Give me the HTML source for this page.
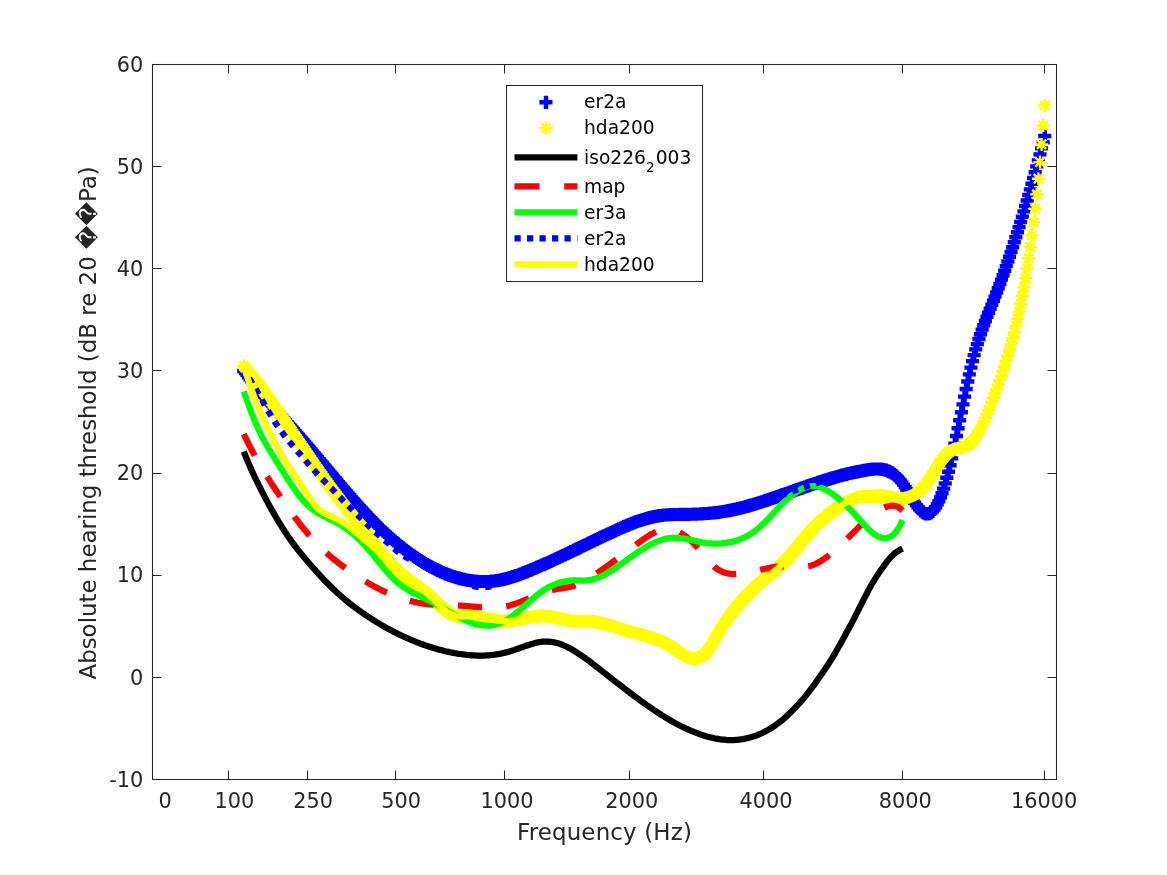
<!DOCTYPE html>
<html><head><meta charset="utf-8"><title>Absolute hearing threshold</title>
<style>html,body{margin:0;padding:0;background:#fff}body{width:1167px;height:875px;overflow:hidden}svg{display:block;will-change:transform}text{font-family:"DejaVu Sans","Liberation Sans",sans-serif}</style></head><body>
<svg width="1167" height="875" viewBox="0 0 1167 875">
<rect x="0" y="0" width="1167" height="875" fill="#fff"/>
<clipPath id="c"><rect x="152.5" y="64.5" width="904.0" height="715.0"/></clipPath>
<g clip-path="url(#c)" fill="none">
<path d="M237.2 371.0h13.1M243.8 364.5v13.1M238.8 373.1h13.1M245.4 366.5v13.1M240.4 375.1h13.1M247.0 368.6v13.1M242.0 377.2h13.1M248.6 370.6v13.1M243.6 379.2h13.1M250.2 372.7v13.1M245.2 381.2h13.1M251.8 374.7v13.1M246.8 383.2h13.1M253.4 376.6v13.1M248.4 385.2h13.1M255.0 378.6v13.1M250.0 387.1h13.1M256.6 380.6v13.1M251.7 389.1h13.1M258.2 382.5v13.1M253.3 391.0h13.1M259.8 384.4v13.1M254.9 392.9h13.1M261.4 386.3v13.1M256.5 394.8h13.1M263.0 388.2v13.1M258.1 396.7h13.1M264.6 390.1v13.1M259.7 398.5h13.1M266.2 392.0v13.1M261.3 400.4h13.1M267.8 393.8v13.1M262.9 402.2h13.1M269.4 395.7v13.1M264.5 404.1h13.1M271.0 397.5v13.1M266.1 405.9h13.1M272.6 399.3v13.1M267.7 407.7h13.1M274.3 401.2v13.1M269.3 409.5h13.1M275.9 403.0v13.1M270.9 411.3h13.1M277.5 404.8v13.1M272.5 413.1h13.1M279.1 406.6v13.1M274.1 414.9h13.1M280.7 408.4v13.1M275.7 416.7h13.1M282.3 410.2v13.1M277.3 418.5h13.1M283.9 412.0v13.1M278.9 420.3h13.1M285.5 413.8v13.1M280.5 422.1h13.1M287.1 415.6v13.1M282.2 423.9h13.1M288.7 417.4v13.1M283.8 425.7h13.1M290.3 419.2v13.1M285.4 427.5h13.1M291.9 421.0v13.1M287.0 429.3h13.1M293.5 422.8v13.1M288.6 431.1h13.1M295.1 424.6v13.1M290.2 432.9h13.1M296.7 426.4v13.1M291.8 434.8h13.1M298.3 428.2v13.1M293.4 436.6h13.1M299.9 430.1v13.1M295.0 438.4h13.1M301.5 431.9v13.1M296.6 440.3h13.1M303.1 433.7v13.1M298.2 442.2h13.1M304.8 435.6v13.1M299.8 444.0h13.1M306.4 437.5v13.1M301.4 445.9h13.1M308.0 439.3v13.1M303.0 447.8h13.1M309.6 441.2v13.1M304.6 449.7h13.1M311.2 443.1v13.1M306.2 451.6h13.1M312.8 445.0v13.1M307.8 453.5h13.1M314.4 446.9v13.1M309.4 455.4h13.1M316.0 448.8v13.1M311.0 457.3h13.1M317.6 450.7v13.1M312.7 459.2h13.1M319.2 452.6v13.1M314.3 461.1h13.1M320.8 454.5v13.1M315.9 463.0h13.1M322.4 456.5v13.1M317.5 464.9h13.1M324.0 458.4v13.1M319.1 466.8h13.1M325.6 460.3v13.1M320.7 468.8h13.1M327.2 462.2v13.1M322.3 470.7h13.1M328.8 464.1v13.1M323.9 472.6h13.1M330.4 466.1v13.1M325.5 474.5h13.1M332.0 468.0v13.1M327.1 476.4h13.1M333.6 469.9v13.1M328.7 478.3h13.1M335.3 471.8v13.1M330.3 480.2h13.1M336.9 473.7v13.1M331.9 482.1h13.1M338.5 475.6v13.1M333.5 484.0h13.1M340.1 477.5v13.1M335.1 485.9h13.1M341.7 479.4v13.1M336.7 487.8h13.1M343.3 481.3v13.1M338.3 489.7h13.1M344.9 483.1v13.1M339.9 491.6h13.1M346.5 485.0v13.1M341.5 493.4h13.1M348.1 486.9v13.1M343.2 495.3h13.1M349.7 488.7v13.1M344.8 497.1h13.1M351.3 490.6v13.1M346.4 498.9h13.1M352.9 492.4v13.1M348.0 500.8h13.1M354.5 494.2v13.1M349.6 502.6h13.1M356.1 496.0v13.1M351.2 504.4h13.1M357.7 497.8v13.1M352.8 506.2h13.1M359.3 499.6v13.1M354.4 507.9h13.1M360.9 501.4v13.1M356.0 509.7h13.1M362.5 503.1v13.1M357.6 511.4h13.1M364.1 504.9v13.1M359.2 513.2h13.1M365.8 506.6v13.1M360.8 514.9h13.1M367.4 508.3v13.1M362.4 516.6h13.1M369.0 510.0v13.1M364.0 518.2h13.1M370.6 511.7v13.1M365.6 519.9h13.1M372.2 513.4v13.1M367.2 521.6h13.1M373.8 515.0v13.1M368.8 523.2h13.1M375.4 516.6v13.1M370.4 524.8h13.1M377.0 518.2v13.1M372.0 526.4h13.1M378.6 519.8v13.1M373.7 527.9h13.1M380.2 521.4v13.1M375.3 529.5h13.1M381.8 522.9v13.1M376.9 531.0h13.1M383.4 524.5v13.1M378.5 532.5h13.1M385.0 526.0v13.1M380.1 534.0h13.1M386.6 527.5v13.1M381.7 535.5h13.1M388.2 528.9v13.1M383.3 536.9h13.1M389.8 530.4v13.1M384.9 538.4h13.1M391.4 531.8v13.1M386.5 539.8h13.1M393.0 533.2v13.1M388.1 541.2h13.1M394.6 534.6v13.1M389.7 542.5h13.1M396.3 536.0v13.1M391.3 543.9h13.1M397.9 537.3v13.1M392.9 545.2h13.1M399.5 538.7v13.1M394.5 546.5h13.1M401.1 540.0v13.1M396.1 547.8h13.1M402.7 541.3v13.1M397.7 549.1h13.1M404.3 542.5v13.1M399.3 550.3h13.1M405.9 543.8v13.1M400.9 551.5h13.1M407.5 545.0v13.1M402.5 552.7h13.1M409.1 546.2v13.1M404.1 553.9h13.1M410.7 547.4v13.1M405.8 555.1h13.1M412.3 548.5v13.1M407.4 556.2h13.1M413.9 549.6v13.1M409.0 557.3h13.1M415.5 550.7v13.1M410.6 558.4h13.1M417.1 551.8v13.1M412.2 559.4h13.1M418.7 552.9v13.1M413.8 560.5h13.1M420.3 553.9v13.1M415.4 561.5h13.1M421.9 555.0v13.1M417.0 562.5h13.1M423.5 555.9v13.1M418.6 563.5h13.1M425.1 556.9v13.1M420.2 564.4h13.1M426.8 557.9v13.1M421.8 565.3h13.1M428.4 558.8v13.1M423.4 566.2h13.1M430.0 559.7v13.1M425.0 567.1h13.1M431.6 560.6v13.1M426.6 568.0h13.1M433.2 561.4v13.1M428.2 568.8h13.1M434.8 562.2v13.1M429.8 569.6h13.1M436.4 563.1v13.1M431.4 570.4h13.1M438.0 563.8v13.1M433.0 571.1h13.1M439.6 564.6v13.1M434.6 571.9h13.1M441.2 565.3v13.1M436.3 572.6h13.1M442.8 566.0v13.1M437.9 573.2h13.1M444.4 566.7v13.1M439.5 573.9h13.1M446.0 567.3v13.1M441.1 574.5h13.1M447.6 568.0v13.1M442.7 575.1h13.1M449.2 568.6v13.1M444.3 575.7h13.1M450.8 569.2v13.1M445.9 576.3h13.1M452.4 569.7v13.1M447.5 576.8h13.1M454.0 570.2v13.1M449.1 577.3h13.1M455.6 570.7v13.1M450.7 577.8h13.1M457.3 571.2v13.1M452.3 578.2h13.1M458.9 571.6v13.1M453.9 578.6h13.1M460.5 572.1v13.1M455.5 579.0h13.1M462.1 572.5v13.1M457.1 579.4h13.1M463.7 572.8v13.1M458.7 579.7h13.1M465.3 573.2v13.1M460.3 580.0h13.1M466.9 573.5v13.1M461.9 580.3h13.1M468.5 573.8v13.1M463.5 580.6h13.1M470.1 574.0v13.1M465.1 580.8h13.1M471.7 574.2v13.1M466.8 581.0h13.1M473.3 574.4v13.1M468.4 581.2h13.1M474.9 574.6v13.1M470.0 581.3h13.1M476.5 574.8v13.1M471.6 581.4h13.1M478.1 574.9v13.1M473.2 581.5h13.1M479.7 575.0v13.1M474.8 581.6h13.1M481.3 575.0v13.1M476.4 581.6h13.1M482.9 575.0v13.1M478.0 581.6h13.1M484.5 575.0v13.1M479.6 581.6h13.1M486.1 575.0v13.1M481.2 581.5h13.1M487.8 575.0v13.1M482.8 581.4h13.1M489.4 574.9v13.1M484.4 581.3h13.1M491.0 574.7v13.1M486.0 581.2h13.1M492.6 574.6v13.1M487.6 581.0h13.1M494.2 574.4v13.1M489.2 580.8h13.1M495.8 574.2v13.1M490.8 580.5h13.1M497.4 574.0v13.1M492.4 580.3h13.1M499.0 573.7v13.1M494.0 580.0h13.1M500.6 573.4v13.1M495.6 579.6h13.1M502.2 573.1v13.1M497.3 579.3h13.1M503.8 572.7v13.1M498.9 578.9h13.1M505.4 572.3v13.1M500.5 578.5h13.1M507.0 571.9v13.1M502.1 578.0h13.1M508.6 571.5v13.1M503.7 577.6h13.1M510.2 571.0v13.1M505.3 577.1h13.1M511.8 570.5v13.1M506.9 576.6h13.1M513.4 570.0v13.1M508.5 576.0h13.1M515.0 569.5v13.1M510.1 575.5h13.1M516.6 568.9v13.1M511.7 574.9h13.1M518.3 568.4v13.1M513.3 574.3h13.1M519.9 567.8v13.1M514.9 573.7h13.1M521.5 567.2v13.1M516.5 573.1h13.1M523.1 566.6v13.1M518.1 572.5h13.1M524.7 565.9v13.1M519.7 571.9h13.1M526.3 565.3v13.1M521.3 571.2h13.1M527.9 564.7v13.1M522.9 570.6h13.1M529.5 564.0v13.1M524.5 569.9h13.1M531.1 563.3v13.1M526.1 569.2h13.1M532.7 562.7v13.1M527.8 568.6h13.1M534.3 562.0v13.1M529.4 567.9h13.1M535.9 561.3v13.1M531.0 567.2h13.1M537.5 560.6v13.1M532.6 566.5h13.1M539.1 559.9v13.1M534.2 565.8h13.1M540.7 559.2v13.1M535.8 565.1h13.1M542.3 558.5v13.1M537.4 564.4h13.1M543.9 557.8v13.1M539.0 563.7h13.1M545.5 557.1v13.1M540.6 562.9h13.1M547.1 556.4v13.1M542.2 562.2h13.1M548.8 555.7v13.1M543.8 561.5h13.1M550.4 554.9v13.1M545.4 560.7h13.1M552.0 554.2v13.1M547.0 560.0h13.1M553.6 553.5v13.1M548.6 559.3h13.1M555.2 552.7v13.1M550.2 558.5h13.1M556.8 552.0v13.1M551.8 557.8h13.1M558.4 551.2v13.1M553.4 557.0h13.1M560.0 550.5v13.1M555.0 556.3h13.1M561.6 549.7v13.1M556.6 555.5h13.1M563.2 549.0v13.1M558.3 554.8h13.1M564.8 548.2v13.1M559.9 554.0h13.1M566.4 547.4v13.1M561.5 553.2h13.1M568.0 546.7v13.1M563.1 552.5h13.1M569.6 545.9v13.1M564.7 551.7h13.1M571.2 545.1v13.1M566.3 550.9h13.1M572.8 544.4v13.1M567.9 550.2h13.1M574.4 543.6v13.1M569.5 549.4h13.1M576.0 542.8v13.1M571.1 548.6h13.1M577.6 542.1v13.1M572.7 547.8h13.1M579.3 541.3v13.1M574.3 547.1h13.1M580.9 540.5v13.1M575.9 546.3h13.1M582.5 539.7v13.1M577.5 545.5h13.1M584.1 539.0v13.1M579.1 544.7h13.1M585.7 538.2v13.1M580.7 544.0h13.1M587.3 537.4v13.1M582.3 543.2h13.1M588.9 536.6v13.1M583.9 542.4h13.1M590.5 535.9v13.1M585.5 541.6h13.1M592.1 535.1v13.1M587.1 540.9h13.1M593.7 534.3v13.1M588.8 540.1h13.1M595.3 533.5v13.1M590.4 539.3h13.1M596.9 532.8v13.1M592.0 538.5h13.1M598.5 532.0v13.1M593.6 537.8h13.1M600.1 531.2v13.1M595.2 537.0h13.1M601.7 530.5v13.1M596.8 536.3h13.1M603.3 529.7v13.1M598.4 535.5h13.1M604.9 528.9v13.1M600.0 534.7h13.1M606.5 528.2v13.1M601.6 534.0h13.1M608.1 527.4v13.1M603.2 533.2h13.1M609.8 526.7v13.1M604.8 532.5h13.1M611.4 525.9v13.1M606.4 531.7h13.1M613.0 525.2v13.1M608.0 531.0h13.1M614.6 524.4v13.1M609.6 530.2h13.1M616.2 523.7v13.1M611.2 529.5h13.1M617.8 523.0v13.1M612.8 528.8h13.1M619.4 522.2v13.1M614.4 528.1h13.1M621.0 521.5v13.1M616.0 527.4h13.1M622.6 520.8v13.1M617.6 526.7h13.1M624.2 520.1v13.1M619.3 526.0h13.1M625.8 519.4v13.1M620.9 525.3h13.1M627.4 518.8v13.1M622.5 524.7h13.1M629.0 518.1v13.1M624.1 524.0h13.1M630.6 517.5v13.1M625.7 523.4h13.1M632.2 516.8v13.1M627.3 522.8h13.1M633.8 516.2v13.1M628.9 522.2h13.1M635.4 515.6v13.1M630.5 521.6h13.1M637.0 515.0v13.1M632.1 521.0h13.1M638.6 514.5v13.1M633.7 520.5h13.1M640.3 513.9v13.1M635.3 519.9h13.1M641.9 513.4v13.1M636.9 519.4h13.1M643.5 512.9v13.1M638.5 518.9h13.1M645.1 512.4v13.1M640.1 518.5h13.1M646.7 511.9v13.1M641.7 518.0h13.1M648.3 511.5v13.1M643.3 517.6h13.1M649.9 511.1v13.1M644.9 517.2h13.1M651.5 510.7v13.1M646.5 516.8h13.1M653.1 510.3v13.1M648.1 516.5h13.1M654.7 510.0v13.1M649.8 516.2h13.1M656.3 509.7v13.1M651.4 515.9h13.1M657.9 509.4v13.1M653.0 515.7h13.1M659.5 509.1v13.1M654.6 515.4h13.1M661.1 508.9v13.1M656.2 515.3h13.1M662.7 508.7v13.1M657.8 515.1h13.1M664.3 508.5v13.1M659.4 514.9h13.1M665.9 508.4v13.1M661.0 514.8h13.1M667.5 508.3v13.1M662.6 514.7h13.1M669.1 508.2v13.1M664.2 514.6h13.1M670.8 508.1v13.1M665.8 514.6h13.1M672.4 508.0v13.1M667.4 514.5h13.1M674.0 508.0v13.1M669.0 514.5h13.1M675.6 507.9v13.1M670.6 514.4h13.1M677.2 507.9v13.1M672.2 514.4h13.1M678.8 507.9v13.1M673.8 514.4h13.1M680.4 507.8v13.1M675.4 514.4h13.1M682.0 507.8v13.1M677.0 514.4h13.1M683.6 507.8v13.1M678.6 514.4h13.1M685.2 507.8v13.1M680.3 514.3h13.1M686.8 507.8v13.1M681.9 514.3h13.1M688.4 507.8v13.1M683.5 514.3h13.1M690.0 507.7v13.1M685.1 514.3h13.1M691.6 507.7v13.1M686.7 514.2h13.1M693.2 507.7v13.1M688.3 514.2h13.1M694.8 507.6v13.1M689.9 514.1h13.1M696.4 507.6v13.1M691.5 514.0h13.1M698.0 507.5v13.1M693.1 514.0h13.1M699.6 507.4v13.1M694.7 513.9h13.1M701.3 507.3v13.1M696.3 513.8h13.1M702.9 507.2v13.1M697.9 513.7h13.1M704.5 507.1v13.1M699.5 513.6h13.1M706.1 507.0v13.1M701.1 513.4h13.1M707.7 506.9v13.1M702.7 513.3h13.1M709.3 506.7v13.1M704.3 513.1h13.1M710.9 506.6v13.1M705.9 513.0h13.1M712.5 506.4v13.1M707.5 512.8h13.1M714.1 506.3v13.1M709.1 512.6h13.1M715.7 506.1v13.1M710.8 512.4h13.1M717.3 505.9v13.1M712.4 512.2h13.1M718.9 505.7v13.1M714.0 512.0h13.1M720.5 505.4v13.1M715.6 511.8h13.1M722.1 505.2v13.1M717.2 511.5h13.1M723.7 504.9v13.1M718.8 511.2h13.1M725.3 504.7v13.1M720.4 510.9h13.1M726.9 504.4v13.1M722.0 510.7h13.1M728.5 504.1v13.1M723.6 510.3h13.1M730.1 503.8v13.1M725.2 510.0h13.1M731.8 503.5v13.1M726.8 509.7h13.1M733.4 503.1v13.1M728.4 509.3h13.1M735.0 502.8v13.1M730.0 509.0h13.1M736.6 502.4v13.1M731.6 508.6h13.1M738.2 502.1v13.1M733.2 508.2h13.1M739.8 501.7v13.1M734.8 507.8h13.1M741.4 501.3v13.1M736.4 507.4h13.1M743.0 500.9v13.1M738.0 507.0h13.1M744.6 500.4v13.1M739.6 506.6h13.1M746.2 500.0v13.1M741.3 506.1h13.1M747.8 499.6v13.1M742.9 505.7h13.1M749.4 499.1v13.1M744.5 505.2h13.1M751.0 498.6v13.1M746.1 504.7h13.1M752.6 498.2v13.1M747.7 504.2h13.1M754.2 497.7v13.1M749.3 503.8h13.1M755.8 497.2v13.1M750.9 503.3h13.1M757.4 496.7v13.1M752.5 502.8h13.1M759.0 496.2v13.1M754.1 502.3h13.1M760.6 495.7v13.1M755.7 501.7h13.1M762.2 495.2v13.1M757.3 501.2h13.1M763.9 494.7v13.1M758.9 500.7h13.1M765.5 494.1v13.1M760.5 500.2h13.1M767.1 493.6v13.1M762.1 499.6h13.1M768.7 493.1v13.1M763.7 499.1h13.1M770.3 492.5v13.1M765.3 498.5h13.1M771.9 492.0v13.1M766.9 498.0h13.1M773.5 491.4v13.1M768.5 497.4h13.1M775.1 490.9v13.1M770.1 496.9h13.1M776.7 490.3v13.1M771.8 496.3h13.1M778.3 489.8v13.1M773.4 495.8h13.1M779.9 489.2v13.1M775.0 495.2h13.1M781.5 488.6v13.1M776.6 494.6h13.1M783.1 488.1v13.1M778.2 494.1h13.1M784.7 487.5v13.1M779.8 493.5h13.1M786.3 486.9v13.1M781.4 492.9h13.1M787.9 486.4v13.1M783.0 492.4h13.1M789.5 485.8v13.1M784.6 491.8h13.1M791.1 485.2v13.1M786.2 491.2h13.1M792.7 484.7v13.1M787.8 490.7h13.1M794.4 484.1v13.1M789.4 490.1h13.1M796.0 483.5v13.1M791.0 489.5h13.1M797.6 483.0v13.1M792.6 489.0h13.1M799.2 482.4v13.1M794.2 488.4h13.1M800.8 481.8v13.1M795.8 487.8h13.1M802.4 481.3v13.1M797.4 487.3h13.1M804.0 480.7v13.1M799.0 486.7h13.1M805.6 480.2v13.1M800.6 486.2h13.1M807.2 479.6v13.1M802.3 485.6h13.1M808.8 479.1v13.1M803.9 485.1h13.1M810.4 478.5v13.1M805.5 484.5h13.1M812.0 478.0v13.1M807.1 484.0h13.1M813.6 477.4v13.1M808.7 483.4h13.1M815.2 476.9v13.1M810.3 482.9h13.1M816.8 476.4v13.1M811.9 482.4h13.1M818.4 475.8v13.1M813.5 481.9h13.1M820.0 475.3v13.1M815.1 481.3h13.1M821.6 474.8v13.1M816.7 480.8h13.1M823.2 474.3v13.1M818.3 480.3h13.1M824.9 473.8v13.1M819.9 479.8h13.1M826.5 473.3v13.1M821.5 479.3h13.1M828.1 472.8v13.1M823.1 478.8h13.1M829.7 472.3v13.1M824.7 478.4h13.1M831.3 471.8v13.1M826.3 477.9h13.1M832.9 471.3v13.1M827.9 477.4h13.1M834.5 470.9v13.1M829.5 477.0h13.1M836.1 470.4v13.1M831.1 476.5h13.1M837.7 470.0v13.1M832.8 476.1h13.1M839.3 469.5v13.1M834.4 475.6h13.1M840.9 469.1v13.1M836.0 475.2h13.1M842.5 468.6v13.1M837.6 474.8h13.1M844.1 468.2v13.1M839.2 474.4h13.1M845.7 467.8v13.1M840.8 474.0h13.1M847.3 467.4v13.1M842.4 473.6h13.1M848.9 467.0v13.1M844.0 473.2h13.1M850.5 466.7v13.1M845.6 472.9h13.1M852.1 466.3v13.1M847.2 472.5h13.1M853.7 466.0v13.1M848.8 472.2h13.1M855.4 465.6v13.1M850.4 471.9h13.1M857.0 465.3v13.1M852.0 471.5h13.1M858.6 465.0v13.1M853.6 471.2h13.1M860.2 464.7v13.1M855.2 470.9h13.1M861.8 464.4v13.1M856.8 470.6h13.1M863.4 464.1v13.1M858.4 470.3h13.1M865.0 463.8v13.1M860.0 470.0h13.1M866.6 463.5v13.1M861.6 469.8h13.1M868.2 463.2v13.1M863.3 469.5h13.1M869.8 463.0v13.1M864.9 469.3h13.1M871.4 462.8v13.1M866.5 469.2h13.1M873.0 462.6v13.1M868.1 469.1h13.1M874.6 462.5v13.1M869.7 469.0h13.1M876.2 462.4v13.1M871.3 469.0h13.1M877.8 462.4v13.1M872.9 469.0h13.1M879.4 462.5v13.1M874.5 469.2h13.1M881.0 462.6v13.1M876.1 469.4h13.1M882.6 462.9v13.1M877.7 469.7h13.1M884.2 463.2v13.1M879.3 470.2h13.1M885.9 463.6v13.1M880.9 470.7h13.1M887.5 464.2v13.1M882.5 471.4h13.1M889.1 464.8v13.1M884.1 472.2h13.1M890.7 465.7v13.1M885.7 473.2h13.1M892.3 466.6v13.1M887.3 474.3h13.1M893.9 467.7v13.1M888.9 475.5h13.1M895.5 469.0v13.1M890.5 477.0h13.1M897.1 470.4v13.1M892.1 478.6h13.1M898.7 472.0v13.1M893.8 480.4h13.1M900.3 473.8v13.1M895.4 482.4h13.1M901.9 475.8v13.1M897.0 484.6h13.1M903.5 478.1v13.1M898.6 487.0h13.1M905.1 480.5v13.1M900.2 489.5h13.1M906.7 483.0v13.1M901.8 492.2h13.1M908.3 485.6v13.1M903.4 494.8h13.1M909.9 488.3v13.1M905.0 497.5h13.1M911.5 491.0v13.1M906.6 500.1h13.1M913.1 493.6v13.1M908.2 502.7h13.1M914.7 496.1v13.1M909.8 505.1h13.1M916.4 498.5v13.1M911.4 507.3h13.1M918.0 500.7v13.1M913.0 509.2h13.1M919.6 502.7v13.1M914.6 510.9h13.1M921.2 504.4v13.1M916.2 512.3h13.1M922.8 505.7v13.1M917.8 513.3h13.1M924.4 506.7v13.1M919.4 513.8h13.1M926.0 507.3v13.1M921.0 513.9h13.1M927.6 507.4v13.1M922.6 513.5h13.1M929.2 507.0v13.1M924.3 512.7h13.1M930.8 506.1v13.1M925.9 511.3h13.1M932.4 504.8v13.1M927.5 509.5h13.1M934.0 502.9v13.1M929.1 507.2h13.1M935.6 500.6v13.1M930.7 504.4h13.1M937.2 497.9v13.1M932.3 501.2h13.1M938.8 494.6v13.1M933.9 497.4h13.1M940.4 490.9v13.1M935.5 493.2h13.1M942.0 486.7v13.1M937.1 488.6h13.1M943.6 482.0v13.1M938.7 483.4h13.1M945.2 476.9v13.1M940.3 477.8h13.1M946.9 471.3v13.1M941.9 471.8h13.1M948.5 465.2v13.1M943.5 465.3h13.1M950.1 458.7v13.1M945.1 458.4h13.1M951.7 451.9v13.1M946.7 451.2h13.1M953.3 444.6v13.1M948.3 443.7h13.1M954.9 437.2v13.1M949.9 436.0h13.1M956.5 429.5v13.1M951.5 428.2h13.1M958.1 421.6v13.1M953.1 420.3h13.1M959.7 413.7v13.1M954.8 412.3h13.1M961.3 405.8v13.1M956.4 404.4h13.1M962.9 397.9v13.1M958.0 396.6h13.1M964.5 390.1v13.1M959.6 389.0h13.1M966.1 382.4v13.1M961.2 381.5h13.1M967.7 375.0v13.1M962.8 374.4h13.1M969.3 367.8v13.1M964.4 367.6h13.1M970.9 361.0v13.1M966.0 361.1h13.1M972.5 354.6v13.1M967.6 355.1h13.1M974.1 348.6v13.1M969.2 349.4h13.1M975.7 342.9v13.1M970.8 344.1h13.1M977.4 337.5v13.1M972.4 339.0h13.1M979.0 332.5v13.1M974.0 334.2h13.1M980.6 327.7v13.1M975.6 329.6h13.1M982.2 323.1v13.1M977.2 325.2h13.1M983.8 318.7v13.1M978.8 321.0h13.1M985.4 314.4v13.1M980.4 316.8h13.1M987.0 310.3v13.1M982.0 312.8h13.1M988.6 306.2v13.1M983.6 308.7h13.1M990.2 302.2v13.1M985.3 304.7h13.1M991.8 298.2v13.1M986.9 300.7h13.1M993.4 294.2v13.1M988.5 296.6h13.1M995.0 290.1v13.1M990.1 292.5h13.1M996.6 285.9v13.1M991.7 288.3h13.1M998.2 281.7v13.1M993.3 284.0h13.1M999.8 277.4v13.1M994.9 279.6h13.1M1001.4 273.1v13.1M996.5 275.2h13.1M1003.0 268.6v13.1M998.1 270.7h13.1M1004.6 264.1v13.1M999.7 266.1h13.1M1006.2 259.6v13.1M1001.3 261.5h13.1M1007.9 254.9v13.1M1002.9 256.8h13.1M1009.5 250.2v13.1M1004.5 252.0h13.1M1011.1 245.5v13.1M1006.1 247.2h13.1M1012.7 240.6v13.1M1007.7 242.3h13.1M1014.3 235.7v13.1M1009.3 237.3h13.1M1015.9 230.7v13.1M1010.9 232.3h13.1M1017.5 225.7v13.1M1012.5 227.1h13.1M1019.1 220.6v13.1M1014.1 222.0h13.1M1020.7 215.4v13.1M1015.8 216.7h13.1M1022.3 210.2v13.1M1017.4 211.4h13.1M1023.9 204.8v13.1M1019.0 206.0h13.1M1025.5 199.5v13.1M1020.6 200.5h13.1M1027.1 194.0v13.1M1022.2 195.0h13.1M1028.7 188.5v13.1M1023.8 189.4h13.1M1030.3 182.9v13.1M1025.4 183.8h13.1M1031.9 177.2v13.1M1027.0 178.0h13.1M1033.5 171.5v13.1M1028.6 172.2h13.1M1035.1 165.7v13.1M1030.2 166.4h13.1M1036.7 159.8v13.1M1031.8 160.4h13.1M1038.4 153.9v13.1M1033.4 154.4h13.1M1040.0 147.9v13.1M1035.0 148.4h13.1M1041.6 141.8v13.1M1036.6 142.2h13.1M1043.2 135.7v13.1M1038.2 136.0h13.1M1044.8 129.4v13.1" stroke="#0000ff" stroke-width="4.40"/>
<path d="M237.3 366.0h13.0M243.8 359.5v13.0M239.2 361.4l9.2 9.2M239.2 370.6l9.2 -9.2M238.9 367.9h13.0M245.4 361.4v13.0M240.8 363.3l9.2 9.2M240.8 372.5l9.2 -9.2M240.5 369.8h13.0M247.0 363.3v13.0M242.4 365.2l9.2 9.2M242.4 374.4l9.2 -9.2M242.1 371.8h13.0M248.6 365.3v13.0M244.0 367.2l9.2 9.2M244.0 376.4l9.2 -9.2M243.7 373.7h13.0M250.2 367.2v13.0M245.6 369.1l9.2 9.2M245.6 378.3l9.2 -9.2M245.3 375.7h13.0M251.8 369.2v13.0M247.2 371.1l9.2 9.2M247.2 380.3l9.2 -9.2M246.9 377.7h13.0M253.4 371.2v13.0M248.8 373.1l9.2 9.2M248.8 382.3l9.2 -9.2M248.5 379.8h13.0M255.0 373.3v13.0M250.4 375.2l9.2 9.2M250.4 384.4l9.2 -9.2M250.1 381.8h13.0M256.6 375.3v13.0M252.0 377.3l9.2 9.2M252.0 386.4l9.2 -9.2M251.7 383.9h13.0M258.2 377.4v13.0M253.6 379.3l9.2 9.2M253.6 388.5l9.2 -9.2M253.3 386.0h13.0M259.8 379.5v13.0M255.2 381.4l9.2 9.2M255.2 390.6l9.2 -9.2M254.9 388.2h13.0M261.4 381.7v13.0M256.8 383.6l9.2 9.2M256.8 392.8l9.2 -9.2M256.5 390.3h13.0M263.0 383.8v13.0M258.4 385.7l9.2 9.2M258.4 394.9l9.2 -9.2M258.1 392.5h13.0M264.6 386.0v13.0M260.0 387.9l9.2 9.2M260.0 397.1l9.2 -9.2M259.7 394.7h13.0M266.2 388.2v13.0M261.6 390.1l9.2 9.2M261.6 399.3l9.2 -9.2M261.3 396.9h13.0M267.8 390.4v13.0M263.2 392.3l9.2 9.2M263.2 401.5l9.2 -9.2M262.9 399.1h13.0M269.4 392.6v13.0M264.8 394.5l9.2 9.2M264.8 403.7l9.2 -9.2M264.5 401.3h13.0M271.0 394.8v13.0M266.4 396.7l9.2 9.2M266.4 405.9l9.2 -9.2M266.1 403.6h13.0M272.6 397.1v13.0M268.1 399.0l9.2 9.2M268.1 408.2l9.2 -9.2M267.8 405.8h13.0M274.3 399.3v13.0M269.7 401.2l9.2 9.2M269.7 410.4l9.2 -9.2M269.4 408.1h13.0M275.9 401.6v13.0M271.3 403.5l9.2 9.2M271.3 412.7l9.2 -9.2M271.0 410.4h13.0M277.5 403.9v13.0M272.9 405.8l9.2 9.2M272.9 415.0l9.2 -9.2M272.6 412.7h13.0M279.1 406.2v13.0M274.5 408.1l9.2 9.2M274.5 417.3l9.2 -9.2M274.2 415.0h13.0M280.7 408.5v13.0M276.1 410.4l9.2 9.2M276.1 419.6l9.2 -9.2M275.8 417.3h13.0M282.3 410.8v13.0M277.7 412.7l9.2 9.2M277.7 421.9l9.2 -9.2M277.4 419.6h13.0M283.9 413.1v13.0M279.3 415.0l9.2 9.2M279.3 424.2l9.2 -9.2M279.0 421.9h13.0M285.5 415.4v13.0M280.9 417.4l9.2 9.2M280.9 426.5l9.2 -9.2M280.6 424.3h13.0M287.1 417.8v13.0M282.5 419.7l9.2 9.2M282.5 428.9l9.2 -9.2M282.2 426.6h13.0M288.7 420.1v13.0M284.1 422.0l9.2 9.2M284.1 431.2l9.2 -9.2M283.8 429.0h13.0M290.3 422.5v13.0M285.7 424.4l9.2 9.2M285.7 433.6l9.2 -9.2M285.4 431.3h13.0M291.9 424.8v13.0M287.3 426.7l9.2 9.2M287.3 435.9l9.2 -9.2M287.0 433.7h13.0M293.5 427.2v13.0M288.9 429.1l9.2 9.2M288.9 438.3l9.2 -9.2M288.6 436.1h13.0M295.1 429.6v13.0M290.5 431.5l9.2 9.2M290.5 440.7l9.2 -9.2M290.2 438.4h13.0M296.7 431.9v13.0M292.1 433.8l9.2 9.2M292.1 443.0l9.2 -9.2M291.8 440.8h13.0M298.3 434.3v13.0M293.7 436.2l9.2 9.2M293.7 445.4l9.2 -9.2M293.4 443.1h13.0M299.9 436.6v13.0M295.3 438.6l9.2 9.2M295.3 447.7l9.2 -9.2M295.0 445.5h13.0M301.5 439.0v13.0M296.9 440.9l9.2 9.2M296.9 450.1l9.2 -9.2M296.6 447.9h13.0M303.1 441.4v13.0M298.6 443.3l9.2 9.2M298.6 452.5l9.2 -9.2M298.3 450.2h13.0M304.8 443.7v13.0M300.2 445.6l9.2 9.2M300.2 454.8l9.2 -9.2M299.9 452.6h13.0M306.4 446.1v13.0M301.8 448.0l9.2 9.2M301.8 457.2l9.2 -9.2M301.5 455.0h13.0M308.0 448.5v13.0M303.4 450.4l9.2 9.2M303.4 459.5l9.2 -9.2M303.1 457.3h13.0M309.6 450.8v13.0M305.0 452.7l9.2 9.2M305.0 461.9l9.2 -9.2M304.7 459.6h13.0M311.2 453.1v13.0M306.6 455.0l9.2 9.2M306.6 464.2l9.2 -9.2M306.3 462.0h13.0M312.8 455.5v13.0M308.2 457.4l9.2 9.2M308.2 466.6l9.2 -9.2M307.9 464.3h13.0M314.4 457.8v13.0M309.8 459.7l9.2 9.2M309.8 468.9l9.2 -9.2M309.5 466.6h13.0M316.0 460.1v13.0M311.4 462.0l9.2 9.2M311.4 471.2l9.2 -9.2M311.1 469.0h13.0M317.6 462.5v13.0M313.0 464.4l9.2 9.2M313.0 473.6l9.2 -9.2M312.7 471.3h13.0M319.2 464.8v13.0M314.6 466.7l9.2 9.2M314.6 475.9l9.2 -9.2M314.3 473.6h13.0M320.8 467.1v13.0M316.2 469.0l9.2 9.2M316.2 478.2l9.2 -9.2M315.9 475.8h13.0M322.4 469.3v13.0M317.8 471.2l9.2 9.2M317.8 480.4l9.2 -9.2M317.5 478.1h13.0M324.0 471.6v13.0M319.4 473.5l9.2 9.2M319.4 482.7l9.2 -9.2M319.1 480.4h13.0M325.6 473.9v13.0M321.0 475.8l9.2 9.2M321.0 485.0l9.2 -9.2M320.7 482.6h13.0M327.2 476.1v13.0M322.6 478.0l9.2 9.2M322.6 487.2l9.2 -9.2M322.3 484.9h13.0M328.8 478.4v13.0M324.2 480.3l9.2 9.2M324.2 489.4l9.2 -9.2M323.9 487.1h13.0M330.4 480.6v13.0M325.8 482.5l9.2 9.2M325.8 491.7l9.2 -9.2M325.5 489.3h13.0M332.0 482.8v13.0M327.4 484.7l9.2 9.2M327.4 493.9l9.2 -9.2M327.1 491.5h13.0M333.6 485.0v13.0M329.1 486.9l9.2 9.2M329.1 496.0l9.2 -9.2M328.8 493.6h13.0M335.3 487.1v13.0M330.7 489.0l9.2 9.2M330.7 498.2l9.2 -9.2M330.4 495.8h13.0M336.9 489.3v13.0M332.3 491.2l9.2 9.2M332.3 500.4l9.2 -9.2M332.0 497.9h13.0M338.5 491.4v13.0M333.9 493.3l9.2 9.2M333.9 502.5l9.2 -9.2M333.6 500.0h13.0M340.1 493.5v13.0M335.5 495.4l9.2 9.2M335.5 504.6l9.2 -9.2M335.2 502.1h13.0M341.7 495.6v13.0M337.1 497.5l9.2 9.2M337.1 506.7l9.2 -9.2M336.8 504.2h13.0M343.3 497.7v13.0M338.7 499.6l9.2 9.2M338.7 508.8l9.2 -9.2M338.4 506.2h13.0M344.9 499.7v13.0M340.3 501.6l9.2 9.2M340.3 510.8l9.2 -9.2M340.0 508.3h13.0M346.5 501.8v13.0M341.9 503.7l9.2 9.2M341.9 512.9l9.2 -9.2M341.6 510.3h13.0M348.1 503.8v13.0M343.5 505.7l9.2 9.2M343.5 514.9l9.2 -9.2M343.2 512.3h13.0M349.7 505.8v13.0M345.1 507.7l9.2 9.2M345.1 516.9l9.2 -9.2M344.8 514.3h13.0M351.3 507.8v13.0M346.7 509.7l9.2 9.2M346.7 518.9l9.2 -9.2M346.4 516.3h13.0M352.9 509.8v13.0M348.3 511.7l9.2 9.2M348.3 520.9l9.2 -9.2M348.0 518.3h13.0M354.5 511.8v13.0M349.9 513.7l9.2 9.2M349.9 522.9l9.2 -9.2M349.6 520.3h13.0M356.1 513.8v13.0M351.5 515.7l9.2 9.2M351.5 524.9l9.2 -9.2M351.2 522.3h13.0M357.7 515.8v13.0M353.1 517.7l9.2 9.2M353.1 526.9l9.2 -9.2M352.8 524.3h13.0M359.3 517.8v13.0M354.7 519.7l9.2 9.2M354.7 528.9l9.2 -9.2M354.4 526.3h13.0M360.9 519.8v13.0M356.3 521.7l9.2 9.2M356.3 530.9l9.2 -9.2M356.0 528.3h13.0M362.5 521.8v13.0M357.9 523.7l9.2 9.2M357.9 532.9l9.2 -9.2M357.6 530.4h13.0M364.1 523.9v13.0M359.6 525.8l9.2 9.2M359.6 534.9l9.2 -9.2M359.3 532.4h13.0M365.8 525.9v13.0M361.2 527.8l9.2 9.2M361.2 537.0l9.2 -9.2M360.9 534.4h13.0M367.4 527.9v13.0M362.8 529.8l9.2 9.2M362.8 539.0l9.2 -9.2M362.5 536.5h13.0M369.0 530.0v13.0M364.4 531.9l9.2 9.2M364.4 541.0l9.2 -9.2M364.1 538.5h13.0M370.6 532.0v13.0M366.0 533.9l9.2 9.2M366.0 543.1l9.2 -9.2M365.7 540.6h13.0M372.2 534.1v13.0M367.6 536.0l9.2 9.2M367.6 545.2l9.2 -9.2M367.3 542.7h13.0M373.8 536.2v13.0M369.2 538.1l9.2 9.2M369.2 547.3l9.2 -9.2M368.9 544.8h13.0M375.4 538.3v13.0M370.8 540.2l9.2 9.2M370.8 549.4l9.2 -9.2M370.5 546.9h13.0M377.0 540.4v13.0M372.4 542.3l9.2 9.2M372.4 551.5l9.2 -9.2M372.1 549.0h13.0M378.6 542.5v13.0M374.0 544.4l9.2 9.2M374.0 553.6l9.2 -9.2M373.7 551.1h13.0M380.2 544.6v13.0M375.6 546.5l9.2 9.2M375.6 555.7l9.2 -9.2M375.3 553.2h13.0M381.8 546.7v13.0M377.2 548.6l9.2 9.2M377.2 557.8l9.2 -9.2M376.9 555.2h13.0M383.4 548.7v13.0M378.8 550.6l9.2 9.2M378.8 559.8l9.2 -9.2M378.5 557.2h13.0M385.0 550.7v13.0M380.4 552.6l9.2 9.2M380.4 561.8l9.2 -9.2M380.1 559.2h13.0M386.6 552.7v13.0M382.0 554.6l9.2 9.2M382.0 563.8l9.2 -9.2M381.7 561.1h13.0M388.2 554.6v13.0M383.6 556.5l9.2 9.2M383.6 565.7l9.2 -9.2M383.3 562.9h13.0M389.8 556.4v13.0M385.2 558.3l9.2 9.2M385.2 567.5l9.2 -9.2M384.9 564.7h13.0M391.4 558.2v13.0M386.8 560.1l9.2 9.2M386.8 569.3l9.2 -9.2M386.5 566.4h13.0M393.0 559.9v13.0M388.4 561.8l9.2 9.2M388.4 571.0l9.2 -9.2M388.1 568.0h13.0M394.6 561.5v13.0M390.1 563.4l9.2 9.2M390.1 572.6l9.2 -9.2M389.8 569.6h13.0M396.3 563.1v13.0M391.7 565.0l9.2 9.2M391.7 574.2l9.2 -9.2M391.4 571.1h13.0M397.9 564.6v13.0M393.3 566.5l9.2 9.2M393.3 575.7l9.2 -9.2M393.0 572.5h13.0M399.5 566.0v13.0M394.9 567.9l9.2 9.2M394.9 577.1l9.2 -9.2M394.6 573.9h13.0M401.1 567.4v13.0M396.5 569.3l9.2 9.2M396.5 578.5l9.2 -9.2M396.2 575.2h13.0M402.7 568.7v13.0M398.1 570.6l9.2 9.2M398.1 579.8l9.2 -9.2M397.8 576.5h13.0M404.3 570.0v13.0M399.7 571.9l9.2 9.2M399.7 581.1l9.2 -9.2M399.4 577.8h13.0M405.9 571.3v13.0M401.3 573.2l9.2 9.2M401.3 582.4l9.2 -9.2M401.0 579.0h13.0M407.5 572.5v13.0M402.9 574.4l9.2 9.2M402.9 583.6l9.2 -9.2M402.6 580.2h13.0M409.1 573.7v13.0M404.5 575.6l9.2 9.2M404.5 584.8l9.2 -9.2M404.2 581.4h13.0M410.7 574.9v13.0M406.1 576.8l9.2 9.2M406.1 586.0l9.2 -9.2M405.8 582.5h13.0M412.3 576.0v13.0M407.7 577.9l9.2 9.2M407.7 587.1l9.2 -9.2M407.4 583.7h13.0M413.9 577.2v13.0M409.3 579.1l9.2 9.2M409.3 588.3l9.2 -9.2M409.0 584.8h13.0M415.5 578.3v13.0M410.9 580.2l9.2 9.2M410.9 589.4l9.2 -9.2M410.6 586.0h13.0M417.1 579.5v13.0M412.5 581.4l9.2 9.2M412.5 590.6l9.2 -9.2M412.2 587.2h13.0M418.7 580.7v13.0M414.1 582.6l9.2 9.2M414.1 591.8l9.2 -9.2M413.8 588.4h13.0M420.3 581.9v13.0M415.7 583.8l9.2 9.2M415.7 593.0l9.2 -9.2M415.4 589.6h13.0M421.9 583.1v13.0M417.3 585.0l9.2 9.2M417.3 594.2l9.2 -9.2M417.0 590.8h13.0M423.5 584.3v13.0M418.9 586.2l9.2 9.2M418.9 595.4l9.2 -9.2M418.6 592.1h13.0M425.1 585.6v13.0M420.6 587.5l9.2 9.2M420.6 596.7l9.2 -9.2M420.3 593.4h13.0M426.8 586.9v13.0M422.2 588.8l9.2 9.2M422.2 598.0l9.2 -9.2M421.9 594.7h13.0M428.4 588.2v13.0M423.8 590.1l9.2 9.2M423.8 599.3l9.2 -9.2M423.5 596.1h13.0M430.0 589.6v13.0M425.4 591.5l9.2 9.2M425.4 600.7l9.2 -9.2M425.1 597.6h13.0M431.6 591.1v13.0M427.0 593.0l9.2 9.2M427.0 602.2l9.2 -9.2M426.7 599.1h13.0M433.2 592.6v13.0M428.6 594.5l9.2 9.2M428.6 603.6l9.2 -9.2M428.3 600.6h13.0M434.8 594.1v13.0M430.2 596.0l9.2 9.2M430.2 605.2l9.2 -9.2M429.9 602.1h13.0M436.4 595.6v13.0M431.8 597.5l9.2 9.2M431.8 606.7l9.2 -9.2M431.5 603.6h13.0M438.0 597.1v13.0M433.4 599.0l9.2 9.2M433.4 608.2l9.2 -9.2M433.1 605.1h13.0M439.6 598.6v13.0M435.0 600.5l9.2 9.2M435.0 609.7l9.2 -9.2M434.7 606.5h13.0M441.2 600.0v13.0M436.6 601.9l9.2 9.2M436.6 611.1l9.2 -9.2M436.3 607.9h13.0M442.8 601.4v13.0M438.2 603.3l9.2 9.2M438.2 612.5l9.2 -9.2M437.9 609.3h13.0M444.4 602.8v13.0M439.8 604.7l9.2 9.2M439.8 613.9l9.2 -9.2M439.5 610.5h13.0M446.0 604.0v13.0M441.4 605.9l9.2 9.2M441.4 615.1l9.2 -9.2M441.1 611.7h13.0M447.6 605.2v13.0M443.0 607.1l9.2 9.2M443.0 616.3l9.2 -9.2M442.7 612.8h13.0M449.2 606.3v13.0M444.6 608.2l9.2 9.2M444.6 617.4l9.2 -9.2M444.3 613.7h13.0M450.8 607.2v13.0M446.2 609.1l9.2 9.2M446.2 618.3l9.2 -9.2M445.9 614.6h13.0M452.4 608.1v13.0M447.8 610.0l9.2 9.2M447.8 619.2l9.2 -9.2M447.5 615.3h13.0M454.0 608.8v13.0M449.4 610.7l9.2 9.2M449.4 619.9l9.2 -9.2M449.1 615.8h13.0M455.6 609.3v13.0M451.1 611.2l9.2 9.2M451.1 620.4l9.2 -9.2M450.8 616.2h13.0M457.3 609.7v13.0M452.7 611.6l9.2 9.2M452.7 620.8l9.2 -9.2M452.4 616.3h13.0M458.9 609.8v13.0M454.3 611.8l9.2 9.2M454.3 620.9l9.2 -9.2M454.0 616.4h13.0M460.5 609.9v13.0M455.9 611.8l9.2 9.2M455.9 621.0l9.2 -9.2M455.6 616.4h13.0M462.1 609.9v13.0M457.5 611.8l9.2 9.2M457.5 621.0l9.2 -9.2M457.2 616.3h13.0M463.7 609.8v13.0M459.1 611.7l9.2 9.2M459.1 620.9l9.2 -9.2M458.8 616.2h13.0M465.3 609.7v13.0M460.7 611.6l9.2 9.2M460.7 620.8l9.2 -9.2M460.4 616.1h13.0M466.9 609.6v13.0M462.3 611.5l9.2 9.2M462.3 620.7l9.2 -9.2M462.0 616.0h13.0M468.5 609.5v13.0M463.9 611.5l9.2 9.2M463.9 620.6l9.2 -9.2M463.6 616.1h13.0M470.1 609.6v13.0M465.5 611.5l9.2 9.2M465.5 620.7l9.2 -9.2M465.2 616.2h13.0M471.7 609.7v13.0M467.1 611.6l9.2 9.2M467.1 620.7l9.2 -9.2M466.8 616.3h13.0M473.3 609.8v13.0M468.7 611.7l9.2 9.2M468.7 620.9l9.2 -9.2M468.4 616.5h13.0M474.9 610.0v13.0M470.3 611.9l9.2 9.2M470.3 621.0l9.2 -9.2M470.0 616.7h13.0M476.5 610.2v13.0M471.9 612.1l9.2 9.2M471.9 621.3l9.2 -9.2M471.6 616.9h13.0M478.1 610.4v13.0M473.5 612.3l9.2 9.2M473.5 621.5l9.2 -9.2M473.2 617.2h13.0M479.7 610.7v13.0M475.1 612.6l9.2 9.2M475.1 621.8l9.2 -9.2M474.8 617.5h13.0M481.3 611.0v13.0M476.7 612.9l9.2 9.2M476.7 622.1l9.2 -9.2M476.4 617.8h13.0M482.9 611.3v13.0M478.3 613.2l9.2 9.2M478.3 622.4l9.2 -9.2M478.0 618.1h13.0M484.5 611.6v13.0M479.9 613.5l9.2 9.2M479.9 622.7l9.2 -9.2M479.6 618.5h13.0M486.1 612.0v13.0M481.6 613.9l9.2 9.2M481.6 623.1l9.2 -9.2M481.3 618.8h13.0M487.8 612.3v13.0M483.2 614.2l9.2 9.2M483.2 623.4l9.2 -9.2M482.9 619.2h13.0M489.4 612.7v13.0M484.8 614.6l9.2 9.2M484.8 623.7l9.2 -9.2M484.5 619.5h13.0M491.0 613.0v13.0M486.4 614.9l9.2 9.2M486.4 624.1l9.2 -9.2M486.1 619.8h13.0M492.6 613.3v13.0M488.0 615.2l9.2 9.2M488.0 624.4l9.2 -9.2M487.7 620.1h13.0M494.2 613.6v13.0M489.6 615.5l9.2 9.2M489.6 624.7l9.2 -9.2M489.3 620.4h13.0M495.8 613.9v13.0M491.2 615.8l9.2 9.2M491.2 625.0l9.2 -9.2M490.9 620.6h13.0M497.4 614.1v13.0M492.8 616.0l9.2 9.2M492.8 625.2l9.2 -9.2M492.5 620.8h13.0M499.0 614.3v13.0M494.4 616.2l9.2 9.2M494.4 625.4l9.2 -9.2M494.1 621.0h13.0M500.6 614.5v13.0M496.0 616.4l9.2 9.2M496.0 625.6l9.2 -9.2M495.7 621.1h13.0M502.2 614.6v13.0M497.6 616.5l9.2 9.2M497.6 625.7l9.2 -9.2M497.3 621.2h13.0M503.8 614.7v13.0M499.2 616.6l9.2 9.2M499.2 625.8l9.2 -9.2M498.9 621.2h13.0M505.4 614.7v13.0M500.8 616.6l9.2 9.2M500.8 625.8l9.2 -9.2M500.5 621.1h13.0M507.0 614.6v13.0M502.4 616.5l9.2 9.2M502.4 625.7l9.2 -9.2M502.1 621.0h13.0M508.6 614.5v13.0M504.0 616.4l9.2 9.2M504.0 625.6l9.2 -9.2M503.7 620.9h13.0M510.2 614.4v13.0M505.6 616.3l9.2 9.2M505.6 625.5l9.2 -9.2M505.3 620.7h13.0M511.8 614.2v13.0M507.2 616.1l9.2 9.2M507.2 625.3l9.2 -9.2M506.9 620.5h13.0M513.4 614.0v13.0M508.8 615.9l9.2 9.2M508.8 625.1l9.2 -9.2M508.5 620.3h13.0M515.0 613.8v13.0M510.4 615.7l9.2 9.2M510.4 624.9l9.2 -9.2M510.1 620.0h13.0M516.6 613.5v13.0M512.1 615.4l9.2 9.2M512.1 624.6l9.2 -9.2M511.8 619.7h13.0M518.3 613.2v13.0M513.7 615.1l9.2 9.2M513.7 624.3l9.2 -9.2M513.4 619.4h13.0M519.9 612.9v13.0M515.3 614.8l9.2 9.2M515.3 624.0l9.2 -9.2M515.0 619.1h13.0M521.5 612.6v13.0M516.9 614.5l9.2 9.2M516.9 623.7l9.2 -9.2M516.6 618.7h13.0M523.1 612.2v13.0M518.5 614.1l9.2 9.2M518.5 623.3l9.2 -9.2M518.2 618.4h13.0M524.7 611.9v13.0M520.1 613.8l9.2 9.2M520.1 623.0l9.2 -9.2M519.8 618.1h13.0M526.3 611.6v13.0M521.7 613.5l9.2 9.2M521.7 622.7l9.2 -9.2M521.4 617.8h13.0M527.9 611.3v13.0M523.3 613.2l9.2 9.2M523.3 622.4l9.2 -9.2M523.0 617.5h13.0M529.5 611.0v13.0M524.9 612.9l9.2 9.2M524.9 622.0l9.2 -9.2M524.6 617.2h13.0M531.1 610.7v13.0M526.5 612.6l9.2 9.2M526.5 621.8l9.2 -9.2M526.2 616.9h13.0M532.7 610.4v13.0M528.1 612.3l9.2 9.2M528.1 621.5l9.2 -9.2M527.8 616.7h13.0M534.3 610.2v13.0M529.7 612.1l9.2 9.2M529.7 621.3l9.2 -9.2M529.4 616.5h13.0M535.9 610.0v13.0M531.3 611.9l9.2 9.2M531.3 621.1l9.2 -9.2M531.0 616.3h13.0M537.5 609.8v13.0M532.9 611.7l9.2 9.2M532.9 620.9l9.2 -9.2M532.6 616.2h13.0M539.1 609.7v13.0M534.5 611.6l9.2 9.2M534.5 620.8l9.2 -9.2M534.2 616.1h13.0M540.7 609.6v13.0M536.1 611.5l9.2 9.2M536.1 620.7l9.2 -9.2M535.8 616.1h13.0M542.3 609.6v13.0M537.7 611.5l9.2 9.2M537.7 620.7l9.2 -9.2M537.4 616.1h13.0M543.9 609.6v13.0M539.3 611.5l9.2 9.2M539.3 620.7l9.2 -9.2M539.0 616.2h13.0M545.5 609.7v13.0M540.9 611.6l9.2 9.2M540.9 620.8l9.2 -9.2M540.6 616.3h13.0M547.1 609.8v13.0M542.5 611.7l9.2 9.2M542.5 620.9l9.2 -9.2M542.3 616.5h13.0M548.8 610.0v13.0M544.2 611.9l9.2 9.2M544.2 621.1l9.2 -9.2M543.9 616.7h13.0M550.4 610.2v13.0M545.8 612.1l9.2 9.2M545.8 621.3l9.2 -9.2M545.5 617.0h13.0M552.0 610.5v13.0M547.4 612.4l9.2 9.2M547.4 621.6l9.2 -9.2M547.1 617.3h13.0M553.6 610.8v13.0M549.0 612.7l9.2 9.2M549.0 621.9l9.2 -9.2M548.7 617.6h13.0M555.2 611.1v13.0M550.6 613.0l9.2 9.2M550.6 622.2l9.2 -9.2M550.3 617.9h13.0M556.8 611.4v13.0M552.2 613.3l9.2 9.2M552.2 622.5l9.2 -9.2M551.9 618.3h13.0M558.4 611.8v13.0M553.8 613.7l9.2 9.2M553.8 622.9l9.2 -9.2M553.5 618.6h13.0M560.0 612.1v13.0M555.4 614.0l9.2 9.2M555.4 623.2l9.2 -9.2M555.1 619.0h13.0M561.6 612.5v13.0M557.0 614.4l9.2 9.2M557.0 623.6l9.2 -9.2M556.7 619.3h13.0M563.2 612.8v13.0M558.6 614.7l9.2 9.2M558.6 623.9l9.2 -9.2M558.3 619.6h13.0M564.8 613.1v13.0M560.2 615.0l9.2 9.2M560.2 624.2l9.2 -9.2M559.9 619.9h13.0M566.4 613.4v13.0M561.8 615.4l9.2 9.2M561.8 624.5l9.2 -9.2M561.5 620.2h13.0M568.0 613.7v13.0M563.4 615.6l9.2 9.2M563.4 624.8l9.2 -9.2M563.1 620.5h13.0M569.6 614.0v13.0M565.0 615.9l9.2 9.2M565.0 625.1l9.2 -9.2M564.7 620.7h13.0M571.2 614.2v13.0M566.6 616.1l9.2 9.2M566.6 625.3l9.2 -9.2M566.3 620.9h13.0M572.8 614.4v13.0M568.2 616.3l9.2 9.2M568.2 625.5l9.2 -9.2M567.9 621.1h13.0M574.4 614.6v13.0M569.8 616.5l9.2 9.2M569.8 625.7l9.2 -9.2M569.5 621.2h13.0M576.0 614.7v13.0M571.4 616.6l9.2 9.2M571.4 625.8l9.2 -9.2M571.1 621.2h13.0M577.6 614.7v13.0M573.0 616.6l9.2 9.2M573.0 625.8l9.2 -9.2M572.8 621.2h13.0M579.3 614.7v13.0M574.7 616.6l9.2 9.2M574.7 625.8l9.2 -9.2M574.4 621.2h13.0M580.9 614.7v13.0M576.3 616.6l9.2 9.2M576.3 625.8l9.2 -9.2M576.0 621.2h13.0M582.5 614.7v13.0M577.9 616.6l9.2 9.2M577.9 625.8l9.2 -9.2M577.6 621.2h13.0M584.1 614.7v13.0M579.5 616.6l9.2 9.2M579.5 625.8l9.2 -9.2M579.2 621.1h13.0M585.7 614.6v13.0M581.1 616.6l9.2 9.2M581.1 625.7l9.2 -9.2M580.8 621.2h13.0M587.3 614.7v13.0M582.7 616.6l9.2 9.2M582.7 625.8l9.2 -9.2M582.4 621.2h13.0M588.9 614.7v13.0M584.3 616.6l9.2 9.2M584.3 625.8l9.2 -9.2M584.0 621.3h13.0M590.5 614.8v13.0M585.9 616.7l9.2 9.2M585.9 625.9l9.2 -9.2M585.6 621.5h13.0M592.1 615.0v13.0M587.5 616.9l9.2 9.2M587.5 626.1l9.2 -9.2M587.2 621.7h13.0M593.7 615.2v13.0M589.1 617.1l9.2 9.2M589.1 626.3l9.2 -9.2M588.8 621.9h13.0M595.3 615.4v13.0M590.7 617.3l9.2 9.2M590.7 626.5l9.2 -9.2M590.4 622.2h13.0M596.9 615.7v13.0M592.3 617.6l9.2 9.2M592.3 626.8l9.2 -9.2M592.0 622.5h13.0M598.5 616.0v13.0M593.9 617.9l9.2 9.2M593.9 627.1l9.2 -9.2M593.6 622.8h13.0M600.1 616.3v13.0M595.5 618.2l9.2 9.2M595.5 627.4l9.2 -9.2M595.2 623.2h13.0M601.7 616.7v13.0M597.1 618.6l9.2 9.2M597.1 627.8l9.2 -9.2M596.8 623.6h13.0M603.3 617.1v13.0M598.7 619.0l9.2 9.2M598.7 628.2l9.2 -9.2M598.4 624.0h13.0M604.9 617.5v13.0M600.3 619.4l9.2 9.2M600.3 628.6l9.2 -9.2M600.0 624.4h13.0M606.5 617.9v13.0M601.9 619.8l9.2 9.2M601.9 629.0l9.2 -9.2M601.6 624.9h13.0M608.1 618.4v13.0M603.5 620.3l9.2 9.2M603.5 629.5l9.2 -9.2M603.3 625.4h13.0M609.8 618.9v13.0M605.2 620.8l9.2 9.2M605.2 629.9l9.2 -9.2M604.9 625.8h13.0M611.4 619.3v13.0M606.8 621.2l9.2 9.2M606.8 630.4l9.2 -9.2M606.5 626.3h13.0M613.0 619.8v13.0M608.4 621.7l9.2 9.2M608.4 630.9l9.2 -9.2M608.1 626.8h13.0M614.6 620.3v13.0M610.0 622.2l9.2 9.2M610.0 631.4l9.2 -9.2M609.7 627.3h13.0M616.2 620.8v13.0M611.6 622.8l9.2 9.2M611.6 631.9l9.2 -9.2M611.3 627.9h13.0M617.8 621.4v13.0M613.2 623.3l9.2 9.2M613.2 632.5l9.2 -9.2M612.9 628.4h13.0M619.4 621.9v13.0M614.8 623.8l9.2 9.2M614.8 633.0l9.2 -9.2M614.5 628.9h13.0M621.0 622.4v13.0M616.4 624.3l9.2 9.2M616.4 633.5l9.2 -9.2M616.1 629.4h13.0M622.6 622.9v13.0M618.0 624.8l9.2 9.2M618.0 634.0l9.2 -9.2M617.7 629.9h13.0M624.2 623.4v13.0M619.6 625.3l9.2 9.2M619.6 634.5l9.2 -9.2M619.3 630.4h13.0M625.8 623.9v13.0M621.2 625.8l9.2 9.2M621.2 635.0l9.2 -9.2M620.9 630.9h13.0M627.4 624.4v13.0M622.8 626.3l9.2 9.2M622.8 635.5l9.2 -9.2M622.5 631.4h13.0M629.0 624.9v13.0M624.4 626.8l9.2 9.2M624.4 636.0l9.2 -9.2M624.1 631.8h13.0M630.6 625.3v13.0M626.0 627.2l9.2 9.2M626.0 636.4l9.2 -9.2M625.7 632.3h13.0M632.2 625.8v13.0M627.6 627.7l9.2 9.2M627.6 636.9l9.2 -9.2M627.3 632.7h13.0M633.8 626.2v13.0M629.2 628.1l9.2 9.2M629.2 637.3l9.2 -9.2M628.9 633.1h13.0M635.4 626.6v13.0M630.8 628.5l9.2 9.2M630.8 637.7l9.2 -9.2M630.5 633.5h13.0M637.0 627.0v13.0M632.4 629.0l9.2 9.2M632.4 638.1l9.2 -9.2M632.1 634.0h13.0M638.6 627.5v13.0M634.0 629.4l9.2 9.2M634.0 638.6l9.2 -9.2M633.8 634.4h13.0M640.3 627.9v13.0M635.7 629.8l9.2 9.2M635.7 639.0l9.2 -9.2M635.4 634.8h13.0M641.9 628.3v13.0M637.3 630.2l9.2 9.2M637.3 639.4l9.2 -9.2M637.0 635.2h13.0M643.5 628.7v13.0M638.9 630.6l9.2 9.2M638.9 639.8l9.2 -9.2M638.6 635.7h13.0M645.1 629.2v13.0M640.5 631.1l9.2 9.2M640.5 640.3l9.2 -9.2M640.2 636.1h13.0M646.7 629.6v13.0M642.1 631.5l9.2 9.2M642.1 640.7l9.2 -9.2M641.8 636.6h13.0M648.3 630.1v13.0M643.7 632.0l9.2 9.2M643.7 641.2l9.2 -9.2M643.4 637.1h13.0M649.9 630.6v13.0M645.3 632.5l9.2 9.2M645.3 641.7l9.2 -9.2M645.0 637.6h13.0M651.5 631.1v13.0M646.9 633.0l9.2 9.2M646.9 642.2l9.2 -9.2M646.6 638.1h13.0M653.1 631.6v13.0M648.5 633.5l9.2 9.2M648.5 642.7l9.2 -9.2M648.2 638.7h13.0M654.7 632.2v13.0M650.1 634.1l9.2 9.2M650.1 643.3l9.2 -9.2M649.8 639.2h13.0M656.3 632.7v13.0M651.7 634.6l9.2 9.2M651.7 643.8l9.2 -9.2M651.4 639.9h13.0M657.9 633.4v13.0M653.3 635.3l9.2 9.2M653.3 644.4l9.2 -9.2M653.0 640.5h13.0M659.5 634.0v13.0M654.9 635.9l9.2 9.2M654.9 645.1l9.2 -9.2M654.6 641.2h13.0M661.1 634.7v13.0M656.5 636.6l9.2 9.2M656.5 645.8l9.2 -9.2M656.2 641.9h13.0M662.7 635.4v13.0M658.1 637.3l9.2 9.2M658.1 646.5l9.2 -9.2M657.8 642.7h13.0M664.3 636.2v13.0M659.7 638.1l9.2 9.2M659.7 647.3l9.2 -9.2M659.4 643.5h13.0M665.9 637.0v13.0M661.3 638.9l9.2 9.2M661.3 648.1l9.2 -9.2M661.0 644.4h13.0M667.5 637.9v13.0M662.9 639.8l9.2 9.2M662.9 649.0l9.2 -9.2M662.6 645.3h13.0M669.1 638.8v13.0M664.5 640.7l9.2 9.2M664.5 649.9l9.2 -9.2M664.3 646.3h13.0M670.8 639.8v13.0M666.2 641.7l9.2 9.2M666.2 650.9l9.2 -9.2M665.9 647.3h13.0M672.4 640.8v13.0M667.8 642.7l9.2 9.2M667.8 651.9l9.2 -9.2M667.5 648.4h13.0M674.0 641.9v13.0M669.4 643.8l9.2 9.2M669.4 653.0l9.2 -9.2M669.1 649.5h13.0M675.6 643.0v13.0M671.0 644.9l9.2 9.2M671.0 654.1l9.2 -9.2M670.7 650.6h13.0M677.2 644.1v13.0M672.6 646.0l9.2 9.2M672.6 655.2l9.2 -9.2M672.3 651.7h13.0M678.8 645.2v13.0M674.2 647.1l9.2 9.2M674.2 656.3l9.2 -9.2M673.9 652.8h13.0M680.4 646.3v13.0M675.8 648.2l9.2 9.2M675.8 657.4l9.2 -9.2M675.5 653.9h13.0M682.0 647.4v13.0M677.4 649.3l9.2 9.2M677.4 658.5l9.2 -9.2M677.1 654.9h13.0M683.6 648.4v13.0M679.0 650.3l9.2 9.2M679.0 659.5l9.2 -9.2M678.7 655.8h13.0M685.2 649.3v13.0M680.6 651.2l9.2 9.2M680.6 660.4l9.2 -9.2M680.3 656.6h13.0M686.8 650.1v13.0M682.2 652.0l9.2 9.2M682.2 661.2l9.2 -9.2M681.9 657.3h13.0M688.4 650.8v13.0M683.8 652.7l9.2 9.2M683.8 661.9l9.2 -9.2M683.5 657.9h13.0M690.0 651.4v13.0M685.4 653.3l9.2 9.2M685.4 662.5l9.2 -9.2M685.1 658.3h13.0M691.6 651.8v13.0M687.0 653.7l9.2 9.2M687.0 662.9l9.2 -9.2M686.7 658.6h13.0M693.2 652.1v13.0M688.6 654.0l9.2 9.2M688.6 663.2l9.2 -9.2M688.3 658.7h13.0M694.8 652.2v13.0M690.2 654.1l9.2 9.2M690.2 663.3l9.2 -9.2M689.9 658.6h13.0M696.4 652.1v13.0M691.8 654.0l9.2 9.2M691.8 663.1l9.2 -9.2M691.5 658.2h13.0M698.0 651.7v13.0M693.4 653.6l9.2 9.2M693.4 662.8l9.2 -9.2M693.1 657.6h13.0M699.6 651.1v13.0M695.0 653.0l9.2 9.2M695.0 662.2l9.2 -9.2M694.8 656.8h13.0M701.3 650.3v13.0M696.7 652.2l9.2 9.2M696.7 661.4l9.2 -9.2M696.4 655.7h13.0M702.9 649.2v13.0M698.3 651.1l9.2 9.2M698.3 660.3l9.2 -9.2M698.0 654.3h13.0M704.5 647.8v13.0M699.9 649.7l9.2 9.2M699.9 658.9l9.2 -9.2M699.6 652.6h13.0M706.1 646.1v13.0M701.5 648.0l9.2 9.2M701.5 657.2l9.2 -9.2M701.2 650.5h13.0M707.7 644.0v13.0M703.1 646.0l9.2 9.2M703.1 655.1l9.2 -9.2M702.8 648.2h13.0M709.3 641.7v13.0M704.7 643.6l9.2 9.2M704.7 652.8l9.2 -9.2M704.4 645.7h13.0M710.9 639.2v13.0M706.3 641.1l9.2 9.2M706.3 650.3l9.2 -9.2M706.0 643.0h13.0M712.5 636.5v13.0M707.9 638.4l9.2 9.2M707.9 647.6l9.2 -9.2M707.6 640.2h13.0M714.1 633.7v13.0M709.5 635.6l9.2 9.2M709.5 644.8l9.2 -9.2M709.2 637.4h13.0M715.7 630.9v13.0M711.1 632.8l9.2 9.2M711.1 642.0l9.2 -9.2M710.8 634.6h13.0M717.3 628.1v13.0M712.7 630.0l9.2 9.2M712.7 639.2l9.2 -9.2M712.4 631.9h13.0M718.9 625.4v13.0M714.3 627.4l9.2 9.2M714.3 636.5l9.2 -9.2M714.0 629.3h13.0M720.5 622.8v13.0M715.9 624.7l9.2 9.2M715.9 633.9l9.2 -9.2M715.6 626.8h13.0M722.1 620.3v13.0M717.5 622.2l9.2 9.2M717.5 631.4l9.2 -9.2M717.2 624.3h13.0M723.7 617.8v13.0M719.1 619.7l9.2 9.2M719.1 628.9l9.2 -9.2M718.8 621.9h13.0M725.3 615.4v13.0M720.7 617.4l9.2 9.2M720.7 626.5l9.2 -9.2M720.4 619.6h13.0M726.9 613.1v13.0M722.3 615.0l9.2 9.2M722.3 624.2l9.2 -9.2M722.0 617.3h13.0M728.5 610.8v13.0M723.9 612.8l9.2 9.2M723.9 621.9l9.2 -9.2M723.6 615.1h13.0M730.1 608.6v13.0M725.5 610.5l9.2 9.2M725.5 619.7l9.2 -9.2M725.3 613.0h13.0M731.8 606.5v13.0M727.2 608.4l9.2 9.2M727.2 617.6l9.2 -9.2M726.9 610.9h13.0M733.4 604.4v13.0M728.8 606.3l9.2 9.2M728.8 615.5l9.2 -9.2M728.5 608.9h13.0M735.0 602.4v13.0M730.4 604.3l9.2 9.2M730.4 613.5l9.2 -9.2M730.1 606.9h13.0M736.6 600.4v13.0M732.0 602.3l9.2 9.2M732.0 611.5l9.2 -9.2M731.7 605.0h13.0M738.2 598.5v13.0M733.6 600.4l9.2 9.2M733.6 609.6l9.2 -9.2M733.3 603.1h13.0M739.8 596.6v13.0M735.2 598.5l9.2 9.2M735.2 607.7l9.2 -9.2M734.9 601.3h13.0M741.4 594.8v13.0M736.8 596.7l9.2 9.2M736.8 605.9l9.2 -9.2M736.5 599.5h13.0M743.0 593.0v13.0M738.4 594.9l9.2 9.2M738.4 604.1l9.2 -9.2M738.1 597.8h13.0M744.6 591.3v13.0M740.0 593.2l9.2 9.2M740.0 602.3l9.2 -9.2M739.7 596.1h13.0M746.2 589.6v13.0M741.6 591.5l9.2 9.2M741.6 600.7l9.2 -9.2M741.3 594.4h13.0M747.8 587.9v13.0M743.2 589.8l9.2 9.2M743.2 599.0l9.2 -9.2M742.9 592.8h13.0M749.4 586.3v13.0M744.8 588.2l9.2 9.2M744.8 597.4l9.2 -9.2M744.5 591.2h13.0M751.0 584.7v13.0M746.4 586.6l9.2 9.2M746.4 595.8l9.2 -9.2M746.1 589.7h13.0M752.6 583.2v13.0M748.0 585.1l9.2 9.2M748.0 594.3l9.2 -9.2M747.7 588.2h13.0M754.2 581.7v13.0M749.6 583.6l9.2 9.2M749.6 592.8l9.2 -9.2M749.3 586.7h13.0M755.8 580.2v13.0M751.2 582.1l9.2 9.2M751.2 591.3l9.2 -9.2M750.9 585.3h13.0M757.4 578.8v13.0M752.8 580.7l9.2 9.2M752.8 589.9l9.2 -9.2M752.5 583.9h13.0M759.0 577.4v13.0M754.4 579.3l9.2 9.2M754.4 588.5l9.2 -9.2M754.1 582.5h13.0M760.6 576.0v13.0M756.0 577.9l9.2 9.2M756.0 587.1l9.2 -9.2M755.7 581.1h13.0M762.2 574.6v13.0M757.7 576.5l9.2 9.2M757.7 585.7l9.2 -9.2M757.4 579.8h13.0M763.9 573.3v13.0M759.3 575.2l9.2 9.2M759.3 584.4l9.2 -9.2M759.0 578.4h13.0M765.5 571.9v13.0M760.9 573.9l9.2 9.2M760.9 583.0l9.2 -9.2M760.6 577.1h13.0M767.1 570.6v13.0M762.5 572.5l9.2 9.2M762.5 581.7l9.2 -9.2M762.2 575.8h13.0M768.7 569.3v13.0M764.1 571.2l9.2 9.2M764.1 580.4l9.2 -9.2M763.8 574.5h13.0M770.3 568.0v13.0M765.7 569.9l9.2 9.2M765.7 579.1l9.2 -9.2M765.4 573.2h13.0M771.9 566.7v13.0M767.3 568.6l9.2 9.2M767.3 577.8l9.2 -9.2M767.0 571.9h13.0M773.5 565.4v13.0M768.9 567.3l9.2 9.2M768.9 576.5l9.2 -9.2M768.6 570.5h13.0M775.1 564.0v13.0M770.5 565.9l9.2 9.2M770.5 575.1l9.2 -9.2M770.2 569.2h13.0M776.7 562.7v13.0M772.1 564.6l9.2 9.2M772.1 573.8l9.2 -9.2M771.8 567.8h13.0M778.3 561.3v13.0M773.7 563.2l9.2 9.2M773.7 572.4l9.2 -9.2M773.4 566.3h13.0M779.9 559.8v13.0M775.3 561.7l9.2 9.2M775.3 570.9l9.2 -9.2M775.0 564.8h13.0M781.5 558.3v13.0M776.9 560.2l9.2 9.2M776.9 569.4l9.2 -9.2M776.6 563.3h13.0M783.1 556.8v13.0M778.5 558.7l9.2 9.2M778.5 567.9l9.2 -9.2M778.2 561.7h13.0M784.7 555.2v13.0M780.1 557.1l9.2 9.2M780.1 566.3l9.2 -9.2M779.8 560.0h13.0M786.3 553.5v13.0M781.7 555.4l9.2 9.2M781.7 564.6l9.2 -9.2M781.4 558.2h13.0M787.9 551.7v13.0M783.3 553.7l9.2 9.2M783.3 562.8l9.2 -9.2M783.0 556.4h13.0M789.5 549.9v13.0M784.9 551.8l9.2 9.2M784.9 561.0l9.2 -9.2M784.6 554.6h13.0M791.1 548.1v13.0M786.5 550.0l9.2 9.2M786.5 559.2l9.2 -9.2M786.2 552.6h13.0M792.7 546.1v13.0M788.2 548.0l9.2 9.2M788.2 557.2l9.2 -9.2M787.9 550.7h13.0M794.4 544.2v13.0M789.8 546.1l9.2 9.2M789.8 555.3l9.2 -9.2M789.5 548.7h13.0M796.0 542.2v13.0M791.4 544.1l9.2 9.2M791.4 553.3l9.2 -9.2M791.1 546.7h13.0M797.6 540.2v13.0M793.0 542.1l9.2 9.2M793.0 551.3l9.2 -9.2M792.7 544.7h13.0M799.2 538.2v13.0M794.6 540.1l9.2 9.2M794.6 549.3l9.2 -9.2M794.3 542.7h13.0M800.8 536.2v13.0M796.2 538.1l9.2 9.2M796.2 547.3l9.2 -9.2M795.9 540.7h13.0M802.4 534.2v13.0M797.8 536.1l9.2 9.2M797.8 545.3l9.2 -9.2M797.5 538.7h13.0M804.0 532.2v13.0M799.4 534.1l9.2 9.2M799.4 543.3l9.2 -9.2M799.1 536.8h13.0M805.6 530.3v13.0M801.0 532.2l9.2 9.2M801.0 541.4l9.2 -9.2M800.7 534.9h13.0M807.2 528.4v13.0M802.6 530.3l9.2 9.2M802.6 539.5l9.2 -9.2M802.3 533.0h13.0M808.8 526.5v13.0M804.2 528.4l9.2 9.2M804.2 537.6l9.2 -9.2M803.9 531.2h13.0M810.4 524.7v13.0M805.8 526.6l9.2 9.2M805.8 535.8l9.2 -9.2M805.5 529.5h13.0M812.0 523.0v13.0M807.4 524.9l9.2 9.2M807.4 534.1l9.2 -9.2M807.1 527.8h13.0M813.6 521.3v13.0M809.0 523.2l9.2 9.2M809.0 532.4l9.2 -9.2M808.7 526.2h13.0M815.2 519.7v13.0M810.6 521.6l9.2 9.2M810.6 530.8l9.2 -9.2M810.3 524.6h13.0M816.8 518.1v13.0M812.2 520.0l9.2 9.2M812.2 529.2l9.2 -9.2M811.9 523.1h13.0M818.4 516.6v13.0M813.8 518.5l9.2 9.2M813.8 527.7l9.2 -9.2M813.5 521.6h13.0M820.0 515.1v13.0M815.4 517.0l9.2 9.2M815.4 526.2l9.2 -9.2M815.1 520.2h13.0M821.6 513.7v13.0M817.0 515.6l9.2 9.2M817.0 524.8l9.2 -9.2M816.7 518.8h13.0M823.2 512.3v13.0M818.7 514.2l9.2 9.2M818.7 523.4l9.2 -9.2M818.4 517.4h13.0M824.9 510.9v13.0M820.3 512.8l9.2 9.2M820.3 522.0l9.2 -9.2M820.0 516.1h13.0M826.5 509.6v13.0M821.9 511.5l9.2 9.2M821.9 520.7l9.2 -9.2M821.6 514.8h13.0M828.1 508.3v13.0M823.5 510.2l9.2 9.2M823.5 519.4l9.2 -9.2M823.2 513.6h13.0M829.7 507.1v13.0M825.1 509.0l9.2 9.2M825.1 518.2l9.2 -9.2M824.8 512.4h13.0M831.3 505.9v13.0M826.7 507.8l9.2 9.2M826.7 517.0l9.2 -9.2M826.4 511.2h13.0M832.9 504.7v13.0M828.3 506.6l9.2 9.2M828.3 515.8l9.2 -9.2M828.0 510.1h13.0M834.5 503.6v13.0M829.9 505.5l9.2 9.2M829.9 514.7l9.2 -9.2M829.6 509.0h13.0M836.1 502.5v13.0M831.5 504.4l9.2 9.2M831.5 513.6l9.2 -9.2M831.2 507.9h13.0M837.7 501.4v13.0M833.1 503.3l9.2 9.2M833.1 512.5l9.2 -9.2M832.8 506.8h13.0M839.3 500.3v13.0M834.7 502.2l9.2 9.2M834.7 511.4l9.2 -9.2M834.4 505.8h13.0M840.9 499.3v13.0M836.3 501.2l9.2 9.2M836.3 510.4l9.2 -9.2M836.0 504.8h13.0M842.5 498.3v13.0M837.9 500.2l9.2 9.2M837.9 509.4l9.2 -9.2M837.6 503.8h13.0M844.1 497.3v13.0M839.5 499.2l9.2 9.2M839.5 508.4l9.2 -9.2M839.2 502.8h13.0M845.7 496.3v13.0M841.1 498.3l9.2 9.2M841.1 507.4l9.2 -9.2M840.8 501.9h13.0M847.3 495.4v13.0M842.7 497.3l9.2 9.2M842.7 506.5l9.2 -9.2M842.4 501.0h13.0M848.9 494.5v13.0M844.3 496.4l9.2 9.2M844.3 505.6l9.2 -9.2M844.0 500.2h13.0M850.5 493.7v13.0M845.9 495.6l9.2 9.2M845.9 504.8l9.2 -9.2M845.6 499.4h13.0M852.1 492.9v13.0M847.5 494.8l9.2 9.2M847.5 504.0l9.2 -9.2M847.2 498.8h13.0M853.7 492.3v13.0M849.2 494.2l9.2 9.2M849.2 503.3l9.2 -9.2M848.9 498.2h13.0M855.4 491.7v13.0M850.8 493.6l9.2 9.2M850.8 502.8l9.2 -9.2M850.5 497.7h13.0M857.0 491.2v13.0M852.4 493.1l9.2 9.2M852.4 502.3l9.2 -9.2M852.1 497.3h13.0M858.6 490.8v13.0M854.0 492.7l9.2 9.2M854.0 501.8l9.2 -9.2M853.7 496.9h13.0M860.2 490.4v13.0M855.6 492.3l9.2 9.2M855.6 501.5l9.2 -9.2M855.3 496.7h13.0M861.8 490.2v13.0M857.2 492.1l9.2 9.2M857.2 501.3l9.2 -9.2M856.9 496.5h13.0M863.4 490.0v13.0M858.8 491.9l9.2 9.2M858.8 501.1l9.2 -9.2M858.5 496.4h13.0M865.0 489.9v13.0M860.4 491.8l9.2 9.2M860.4 500.9l9.2 -9.2M860.1 496.3h13.0M866.6 489.8v13.0M862.0 491.7l9.2 9.2M862.0 500.9l9.2 -9.2M861.7 496.3h13.0M868.2 489.8v13.0M863.6 491.7l9.2 9.2M863.6 500.9l9.2 -9.2M863.3 496.3h13.0M869.8 489.8v13.0M865.2 491.7l9.2 9.2M865.2 500.9l9.2 -9.2M864.9 496.4h13.0M871.4 489.9v13.0M866.8 491.8l9.2 9.2M866.8 501.0l9.2 -9.2M866.5 496.5h13.0M873.0 490.0v13.0M868.4 491.9l9.2 9.2M868.4 501.1l9.2 -9.2M868.1 496.7h13.0M874.6 490.2v13.0M870.0 492.1l9.2 9.2M870.0 501.3l9.2 -9.2M869.7 496.8h13.0M876.2 490.3v13.0M871.6 492.2l9.2 9.2M871.6 501.4l9.2 -9.2M871.3 497.0h13.0M877.8 490.5v13.0M873.2 492.4l9.2 9.2M873.2 501.6l9.2 -9.2M872.9 497.2h13.0M879.4 490.7v13.0M874.8 492.6l9.2 9.2M874.8 501.8l9.2 -9.2M874.5 497.5h13.0M881.0 491.0v13.0M876.4 492.9l9.2 9.2M876.4 502.1l9.2 -9.2M876.1 497.7h13.0M882.6 491.2v13.0M878.0 493.1l9.2 9.2M878.0 502.3l9.2 -9.2M877.7 497.9h13.0M884.2 491.4v13.0M879.7 493.3l9.2 9.2M879.7 502.5l9.2 -9.2M879.4 498.1h13.0M885.9 491.6v13.0M881.3 493.5l9.2 9.2M881.3 502.7l9.2 -9.2M881.0 498.3h13.0M887.5 491.8v13.0M882.9 493.7l9.2 9.2M882.9 502.9l9.2 -9.2M882.6 498.5h13.0M889.1 492.0v13.0M884.5 493.9l9.2 9.2M884.5 503.1l9.2 -9.2M884.2 498.7h13.0M890.7 492.2v13.0M886.1 494.1l9.2 9.2M886.1 503.3l9.2 -9.2M885.8 498.8h13.0M892.3 492.3v13.0M887.7 494.2l9.2 9.2M887.7 503.4l9.2 -9.2M887.4 498.9h13.0M893.9 492.4v13.0M889.3 494.3l9.2 9.2M889.3 503.5l9.2 -9.2M889.0 499.0h13.0M895.5 492.5v13.0M890.9 494.4l9.2 9.2M890.9 503.6l9.2 -9.2M890.6 499.0h13.0M897.1 492.5v13.0M892.5 494.4l9.2 9.2M892.5 503.6l9.2 -9.2M892.2 498.9h13.0M898.7 492.4v13.0M894.1 494.3l9.2 9.2M894.1 503.5l9.2 -9.2M893.8 498.8h13.0M900.3 492.3v13.0M895.7 494.2l9.2 9.2M895.7 503.4l9.2 -9.2M895.4 498.7h13.0M901.9 492.2v13.0M897.3 494.1l9.2 9.2M897.3 503.3l9.2 -9.2M897.0 498.5h13.0M903.5 492.0v13.0M898.9 493.9l9.2 9.2M898.9 503.1l9.2 -9.2M898.6 498.2h13.0M905.1 491.7v13.0M900.5 493.6l9.2 9.2M900.5 502.8l9.2 -9.2M900.2 497.8h13.0M906.7 491.3v13.0M902.1 493.2l9.2 9.2M902.1 502.4l9.2 -9.2M901.8 497.3h13.0M908.3 490.8v13.0M903.7 492.7l9.2 9.2M903.7 501.9l9.2 -9.2M903.4 496.8h13.0M909.9 490.3v13.0M905.3 492.2l9.2 9.2M905.3 501.4l9.2 -9.2M905.0 496.1h13.0M911.5 489.6v13.0M906.9 491.5l9.2 9.2M906.9 500.7l9.2 -9.2M906.6 495.3h13.0M913.1 488.8v13.0M908.5 490.7l9.2 9.2M908.5 499.9l9.2 -9.2M908.2 494.4h13.0M914.7 487.9v13.0M910.2 489.8l9.2 9.2M910.2 499.0l9.2 -9.2M909.9 493.4h13.0M916.4 486.9v13.0M911.8 488.8l9.2 9.2M911.8 498.0l9.2 -9.2M911.5 492.2h13.0M918.0 485.7v13.0M913.4 487.6l9.2 9.2M913.4 496.8l9.2 -9.2M913.1 490.9h13.0M919.6 484.4v13.0M915.0 486.3l9.2 9.2M915.0 495.5l9.2 -9.2M914.7 489.5h13.0M921.2 483.0v13.0M916.6 484.9l9.2 9.2M916.6 494.0l9.2 -9.2M916.3 487.8h13.0M922.8 481.3v13.0M918.2 483.2l9.2 9.2M918.2 492.4l9.2 -9.2M917.9 486.0h13.0M924.4 479.5v13.0M919.8 481.4l9.2 9.2M919.8 490.6l9.2 -9.2M919.5 484.1h13.0M926.0 477.6v13.0M921.4 479.5l9.2 9.2M921.4 488.7l9.2 -9.2M921.1 481.9h13.0M927.6 475.4v13.0M923.0 477.3l9.2 9.2M923.0 486.5l9.2 -9.2M922.7 479.6h13.0M929.2 473.1v13.0M924.6 475.0l9.2 9.2M924.6 484.2l9.2 -9.2M924.3 477.2h13.0M930.8 470.7v13.0M926.2 472.6l9.2 9.2M926.2 481.8l9.2 -9.2M925.9 474.7h13.0M932.4 468.2v13.0M927.8 470.1l9.2 9.2M927.8 479.2l9.2 -9.2M927.5 472.1h13.0M934.0 465.6v13.0M929.4 467.5l9.2 9.2M929.4 476.7l9.2 -9.2M929.1 469.5h13.0M935.6 463.0v13.0M931.0 464.9l9.2 9.2M931.0 474.1l9.2 -9.2M930.7 466.9h13.0M937.2 460.4v13.0M932.6 462.3l9.2 9.2M932.6 471.5l9.2 -9.2M932.3 464.4h13.0M938.8 457.9v13.0M934.2 459.8l9.2 9.2M934.2 469.0l9.2 -9.2M933.9 461.9h13.0M940.4 455.4v13.0M935.8 457.3l9.2 9.2M935.8 466.5l9.2 -9.2M935.5 459.6h13.0M942.0 453.1v13.0M937.4 455.0l9.2 9.2M937.4 464.2l9.2 -9.2M937.1 457.5h13.0M943.6 451.0v13.0M939.0 452.9l9.2 9.2M939.0 462.1l9.2 -9.2M938.7 455.5h13.0M945.2 449.0v13.0M940.7 450.9l9.2 9.2M940.7 460.1l9.2 -9.2M940.4 453.8h13.0M946.9 447.3v13.0M942.3 449.2l9.2 9.2M942.3 458.4l9.2 -9.2M942.0 452.4h13.0M948.5 445.9v13.0M943.9 447.8l9.2 9.2M943.9 457.0l9.2 -9.2M943.6 451.2h13.0M950.1 444.7v13.0M945.5 446.6l9.2 9.2M945.5 455.8l9.2 -9.2M945.2 450.3h13.0M951.7 443.8v13.0M947.1 445.7l9.2 9.2M947.1 454.9l9.2 -9.2M946.8 449.6h13.0M953.3 443.1v13.0M948.7 445.0l9.2 9.2M948.7 454.2l9.2 -9.2M948.4 449.1h13.0M954.9 442.6v13.0M950.3 444.5l9.2 9.2M950.3 453.7l9.2 -9.2M950.0 448.7h13.0M956.5 442.2v13.0M951.9 444.1l9.2 9.2M951.9 453.3l9.2 -9.2M951.6 448.3h13.0M958.1 441.8v13.0M953.5 443.7l9.2 9.2M953.5 452.9l9.2 -9.2M953.2 448.0h13.0M959.7 441.5v13.0M955.1 443.4l9.2 9.2M955.1 452.6l9.2 -9.2M954.8 447.7h13.0M961.3 441.2v13.0M956.7 443.1l9.2 9.2M956.7 452.2l9.2 -9.2M956.4 447.3h13.0M962.9 440.8v13.0M958.3 442.7l9.2 9.2M958.3 451.9l9.2 -9.2M958.0 446.8h13.0M964.5 440.3v13.0M959.9 442.2l9.2 9.2M959.9 451.4l9.2 -9.2M959.6 446.1h13.0M966.1 439.6v13.0M961.5 441.5l9.2 9.2M961.5 450.7l9.2 -9.2M961.2 445.3h13.0M967.7 438.8v13.0M963.1 440.7l9.2 9.2M963.1 449.9l9.2 -9.2M962.8 444.2h13.0M969.3 437.7v13.0M964.7 439.6l9.2 9.2M964.7 448.8l9.2 -9.2M964.4 442.8h13.0M970.9 436.3v13.0M966.3 438.2l9.2 9.2M966.3 447.4l9.2 -9.2M966.0 441.2h13.0M972.5 434.7v13.0M967.9 436.6l9.2 9.2M967.9 445.8l9.2 -9.2M967.6 439.2h13.0M974.1 432.7v13.0M969.5 434.6l9.2 9.2M969.5 443.8l9.2 -9.2M969.2 436.9h13.0M975.7 430.4v13.0M971.2 432.3l9.2 9.2M971.2 441.5l9.2 -9.2M970.9 434.3h13.0M977.4 427.8v13.0M972.8 429.7l9.2 9.2M972.8 438.9l9.2 -9.2M972.5 431.5h13.0M979.0 425.0v13.0M974.4 426.9l9.2 9.2M974.4 436.1l9.2 -9.2M974.1 428.4h13.0M980.6 421.9v13.0M976.0 423.8l9.2 9.2M976.0 433.0l9.2 -9.2M975.7 425.1h13.0M982.2 418.6v13.0M977.6 420.5l9.2 9.2M977.6 429.7l9.2 -9.2M977.3 421.6h13.0M983.8 415.1v13.0M979.2 417.0l9.2 9.2M979.2 426.2l9.2 -9.2M978.9 418.0h13.0M985.4 411.5v13.0M980.8 413.4l9.2 9.2M980.8 422.6l9.2 -9.2M980.5 414.2h13.0M987.0 407.7v13.0M982.4 409.6l9.2 9.2M982.4 418.8l9.2 -9.2M982.1 410.2h13.0M988.6 403.7v13.0M984.0 405.6l9.2 9.2M984.0 414.8l9.2 -9.2M983.7 406.2h13.0M990.2 399.7v13.0M985.6 401.6l9.2 9.2M985.6 410.8l9.2 -9.2M985.3 402.0h13.0M991.8 395.5v13.0M987.2 397.4l9.2 9.2M987.2 406.6l9.2 -9.2M986.9 397.8h13.0M993.4 391.3v13.0M988.8 393.2l9.2 9.2M988.8 402.4l9.2 -9.2M988.5 393.5h13.0M995.0 387.0v13.0M990.4 388.9l9.2 9.2M990.4 398.1l9.2 -9.2M990.1 389.2h13.0M996.6 382.7v13.0M992.0 384.6l9.2 9.2M992.0 393.8l9.2 -9.2M991.7 384.8h13.0M998.2 378.3v13.0M993.6 380.2l9.2 9.2M993.6 389.4l9.2 -9.2M993.3 380.3h13.0M999.8 373.8v13.0M995.2 375.7l9.2 9.2M995.2 384.9l9.2 -9.2M994.9 375.7h13.0M1001.4 369.2v13.0M996.8 371.1l9.2 9.2M996.8 380.3l9.2 -9.2M996.5 370.9h13.0M1003.0 364.4v13.0M998.4 366.3l9.2 9.2M998.4 375.5l9.2 -9.2M998.1 366.0h13.0M1004.6 359.5v13.0M1000.0 361.4l9.2 9.2M1000.0 370.6l9.2 -9.2M999.7 360.9h13.0M1006.2 354.4v13.0M1001.7 356.3l9.2 9.2M1001.7 365.5l9.2 -9.2M1001.4 355.7h13.0M1007.9 349.2v13.0M1003.3 351.1l9.2 9.2M1003.3 360.2l9.2 -9.2M1003.0 350.2h13.0M1009.5 343.7v13.0M1004.9 345.6l9.2 9.2M1004.9 354.8l9.2 -9.2M1004.6 344.4h13.0M1011.1 337.9v13.0M1006.5 339.8l9.2 9.2M1006.5 349.0l9.2 -9.2M1006.2 338.4h13.0M1012.7 331.9v13.0M1008.1 333.8l9.2 9.2M1008.1 343.0l9.2 -9.2M1007.8 332.2h13.0M1014.3 325.7v13.0M1009.7 327.6l9.2 9.2M1009.7 336.8l9.2 -9.2M1009.4 325.6h13.0M1015.9 319.1v13.0M1011.3 321.0l9.2 9.2M1011.3 330.2l9.2 -9.2M1011.0 318.8h13.0M1017.5 312.3v13.0M1012.9 314.2l9.2 9.2M1012.9 323.4l9.2 -9.2M1012.6 311.6h13.0M1019.1 305.1v13.0M1014.5 307.0l9.2 9.2M1014.5 316.2l9.2 -9.2M1014.2 304.0h13.0M1020.7 297.5v13.0M1016.1 299.4l9.2 9.2M1016.1 308.6l9.2 -9.2M1015.8 295.9h13.0M1022.3 289.4v13.0M1017.7 291.3l9.2 9.2M1017.7 300.5l9.2 -9.2M1017.4 287.4h13.0M1023.9 280.9v13.0M1019.3 282.8l9.2 9.2M1019.3 292.0l9.2 -9.2M1019.0 278.3h13.0M1025.5 271.8v13.0M1020.9 273.7l9.2 9.2M1020.9 282.9l9.2 -9.2M1020.6 268.5h13.0M1027.1 262.0v13.0M1022.5 264.0l9.2 9.2M1022.5 273.1l9.2 -9.2M1022.2 258.2h13.0M1028.7 251.7v13.0M1024.1 253.6l9.2 9.2M1024.1 262.8l9.2 -9.2M1023.8 247.0h13.0M1030.3 240.5v13.0M1025.7 242.4l9.2 9.2M1025.7 251.6l9.2 -9.2M1025.4 235.2h13.0M1031.9 228.7v13.0M1027.3 230.6l9.2 9.2M1027.3 239.7l9.2 -9.2M1027.0 222.4h13.0M1033.5 215.9v13.0M1028.9 217.8l9.2 9.2M1028.9 227.0l9.2 -9.2M1028.6 208.8h13.0M1035.1 202.3v13.0M1030.5 204.2l9.2 9.2M1030.5 213.4l9.2 -9.2M1030.2 194.2h13.0M1036.7 187.7v13.0M1032.2 189.7l9.2 9.2M1032.2 198.8l9.2 -9.2M1031.9 178.7h13.0M1038.4 172.2v13.0M1033.8 174.1l9.2 9.2M1033.8 183.3l9.2 -9.2M1033.5 162.1h13.0M1040.0 155.6v13.0M1035.4 157.5l9.2 9.2M1035.4 166.7l9.2 -9.2M1035.1 144.4h13.0M1041.6 137.9v13.0M1037.0 139.8l9.2 9.2M1037.0 148.9l9.2 -9.2M1036.7 125.5h13.0M1043.2 119.0v13.0M1038.6 120.9l9.2 9.2M1038.6 130.1l9.2 -9.2M1038.3 105.4h13.0M1044.8 98.9v13.0M1040.2 100.8l9.2 9.2M1040.2 110.0l9.2 -9.2" stroke="#ffff00" stroke-width="2.40"/>
<polyline points="243.8,451.6 245.4,455.7 247.1,459.7 248.7,463.6 250.4,467.4 252.0,471.1 253.7,474.7 255.3,478.2 257.0,481.6 258.6,484.9 260.3,488.2 261.9,491.5 263.6,494.6 265.2,497.8 266.9,500.9 268.5,504.0 270.2,507.0 271.8,509.9 273.5,512.9 275.1,515.7 276.8,518.6 278.4,521.3 280.1,524.0 281.7,526.7 283.4,529.3 285.0,531.8 286.7,534.3 288.3,536.7 290.0,539.1 291.6,541.4 293.3,543.7 294.9,545.9 296.6,548.0 298.2,550.1 299.9,552.2 301.5,554.3 303.2,556.3 304.8,558.3 306.5,560.2 308.1,562.1 309.8,564.1 311.5,566.0 313.1,567.9 314.8,569.7 316.4,571.6 318.1,573.4 319.7,575.2 321.4,577.0 323.0,578.7 324.7,580.5 326.3,582.2 328.0,583.8 329.6,585.5 331.3,587.1 332.9,588.7 334.6,590.3 336.2,591.8 337.9,593.3 339.5,594.8 341.2,596.3 342.8,597.7 344.5,599.1 346.1,600.5 347.8,601.9 349.4,603.2 351.1,604.5 352.7,605.8 354.4,607.0 356.0,608.3 357.7,609.5 359.3,610.7 361.0,611.8 362.6,613.0 364.3,614.1 365.9,615.2 367.6,616.3 369.2,617.4 370.9,618.5 372.5,619.6 374.2,620.6 375.8,621.6 377.5,622.6 379.2,623.6 380.8,624.6 382.5,625.6 384.1,626.5 385.8,627.5 387.4,628.4 389.1,629.3 390.7,630.2 392.4,631.0 394.0,631.9 395.7,632.7 397.3,633.5 399.0,634.4 400.6,635.2 402.3,635.9 403.9,636.7 405.6,637.5 407.2,638.2 408.9,638.9 410.5,639.6 412.2,640.3 413.8,641.0 415.5,641.7 417.1,642.3 418.8,643.0 420.4,643.6 422.1,644.2 423.7,644.8 425.4,645.4 427.0,645.9 428.7,646.5 430.3,647.0 432.0,647.5 433.6,648.0 435.3,648.5 436.9,649.0 438.6,649.5 440.2,649.9 441.9,650.3 443.5,650.8 445.2,651.2 446.8,651.5 448.5,651.9 450.2,652.3 451.8,652.6 453.5,652.9 455.1,653.2 456.8,653.5 458.4,653.8 460.1,654.0 461.7,654.2 463.4,654.5 465.0,654.6 466.7,654.8 468.3,655.0 470.0,655.1 471.6,655.3 473.3,655.4 474.9,655.4 476.6,655.5 478.2,655.5 479.9,655.6 481.5,655.6 483.2,655.5 484.8,655.5 486.5,655.4 488.1,655.3 489.8,655.2 491.4,655.0 493.1,654.9 494.7,654.7 496.4,654.4 498.0,654.2 499.7,653.9 501.3,653.5 503.0,653.2 504.6,652.8 506.3,652.4 507.9,651.9 509.6,651.4 511.2,650.9 512.9,650.4 514.5,649.9 516.2,649.3 517.9,648.7 519.5,648.1 521.2,647.5 522.8,647.0 524.5,646.4 526.1,645.8 527.8,645.2 529.4,644.7 531.1,644.2 532.7,643.7 534.4,643.2 536.0,642.8 537.7,642.4 539.3,642.1 541.0,641.9 542.6,641.7 544.3,641.5 545.9,641.5 547.6,641.5 549.2,641.6 550.9,641.8 552.5,642.0 554.2,642.3 555.8,642.7 557.5,643.1 559.1,643.6 560.8,644.2 562.4,644.8 564.1,645.5 565.7,646.3 567.4,647.1 569.0,647.9 570.7,648.8 572.3,649.7 574.0,650.7 575.6,651.7 577.3,652.8 578.9,653.9 580.6,655.0 582.2,656.1 583.9,657.3 585.5,658.5 587.2,659.6 588.9,660.8 590.5,662.1 592.2,663.4 593.8,664.7 595.5,666.0 597.1,667.3 598.8,668.5 600.4,669.8 602.1,671.1 603.7,672.4 605.4,673.7 607.0,675.0 608.7,676.3 610.3,677.6 612.0,678.9 613.6,680.2 615.3,681.5 616.9,682.7 618.6,684.0 620.2,685.3 621.9,686.6 623.5,687.8 625.2,689.1 626.8,690.4 628.5,691.6 630.1,692.9 631.8,694.1 633.4,695.4 635.1,696.6 636.7,697.8 638.4,699.0 640.0,700.3 641.7,701.5 643.3,702.6 645.0,703.8 646.6,705.0 648.3,706.1 649.9,707.3 651.6,708.4 653.2,709.5 654.9,710.6 656.5,711.7 658.2,712.8 659.9,713.9 661.5,714.9 663.2,716.0 664.8,717.0 666.5,718.0 668.1,719.0 669.8,720.0 671.4,721.0 673.1,721.9 674.7,722.9 676.4,723.8 678.0,724.6 679.7,725.5 681.3,726.3 683.0,727.1 684.6,727.9 686.3,728.7 687.9,729.4 689.6,730.2 691.2,730.9 692.9,731.5 694.5,732.2 696.2,732.8 697.8,733.4 699.5,734.0 701.1,734.6 702.8,735.2 704.4,735.7 706.1,736.2 707.7,736.7 709.4,737.1 711.0,737.5 712.7,737.9 714.3,738.3 716.0,738.6 717.6,738.9 719.3,739.2 720.9,739.4 722.6,739.6 724.2,739.7 725.9,739.9 727.6,740.0 729.2,740.0 730.9,740.0 732.5,740.0 734.2,740.0 735.8,739.9 737.5,739.8 739.1,739.6 740.8,739.4 742.4,739.2 744.1,738.9 745.7,738.5 747.4,738.2 749.0,737.8 750.7,737.3 752.3,736.8 754.0,736.3 755.6,735.7 757.3,735.1 758.9,734.4 760.6,733.7 762.2,733.0 763.9,732.2 765.5,731.3 767.2,730.4 768.8,729.5 770.5,728.5 772.1,727.5 773.8,726.4 775.4,725.2 777.1,724.0 778.7,722.8 780.4,721.5 782.0,720.2 783.7,718.8 785.3,717.4 787.0,715.9 788.6,714.3 790.3,712.7 791.9,711.1 793.6,709.4 795.2,707.7 796.9,705.9 798.6,704.1 800.2,702.3 801.9,700.4 803.5,698.4 805.2,696.5 806.8,694.4 808.5,692.3 810.1,690.2 811.8,688.0 813.4,685.8 815.1,683.5 816.7,681.1 818.4,678.8 820.0,676.5 821.7,674.1 823.3,671.7 825.0,669.3 826.6,666.8 828.3,664.3 829.9,661.7 831.6,659.1 833.2,656.4 834.9,653.6 836.5,650.7 838.2,647.8 839.8,644.9 841.5,641.9 843.1,638.9 844.8,635.9 846.4,632.8 848.1,629.8 849.7,626.8 851.4,623.7 853.0,620.6 854.7,617.4 856.3,614.2 858.0,610.8 859.6,607.5 861.3,604.2 862.9,601.0 864.6,597.8 866.3,594.5 867.9,591.3 869.6,588.2 871.2,585.2 872.9,582.4 874.5,579.8 876.2,577.2 877.8,574.6 879.5,572.1 881.1,569.7 882.8,567.4 884.4,565.1 886.1,562.9 887.7,560.7 889.4,558.7 891.0,556.8 892.7,555.2 894.3,553.7 896.0,552.4 897.6,551.3 899.3,550.3 900.9,549.4 902.6,548.6" stroke="#000" stroke-width="6.25"/>
<polyline points="243.8,434.0 245.4,437.5 247.1,440.9 248.7,444.2 250.4,447.4 252.0,450.5 253.7,453.6 255.3,456.7 257.0,459.6 258.6,462.5 260.3,465.4 261.9,468.2 263.6,470.9 265.2,473.6 266.9,476.2 268.5,478.8 270.2,481.4 271.8,483.9 273.5,486.5 275.1,488.9 276.8,491.4 278.4,493.8 280.1,496.2 281.7,498.7 283.4,501.1 285.0,503.4 286.7,505.8 288.3,508.1 290.0,510.5 291.6,512.8 293.3,515.0 294.9,517.3 296.6,519.5 298.2,521.7 299.9,523.9 301.5,526.0 303.2,528.1 304.8,530.1 306.5,532.1 308.1,534.1 309.8,536.0 311.5,537.9 313.1,539.7 314.8,541.5 316.4,543.2 318.1,544.9 319.7,546.6 321.4,548.2 323.0,549.8 324.7,551.3 326.3,552.8 328.0,554.3 329.6,555.7 331.3,557.1 332.9,558.5 334.6,559.8 336.2,561.1 337.9,562.4 339.5,563.7 341.2,564.9 342.8,566.2 344.5,567.4 346.1,568.6 347.8,569.7 349.4,570.9 351.1,572.0 352.7,573.2 354.4,574.3 356.0,575.4 357.7,576.5 359.3,577.5 361.0,578.6 362.6,579.6 364.3,580.7 365.9,581.7 367.6,582.6 369.2,583.6 370.9,584.6 372.5,585.5 374.2,586.4 375.8,587.3 377.5,588.1 379.2,589.0 380.8,589.8 382.5,590.6 384.1,591.4 385.8,592.2 387.4,592.9 389.1,593.6 390.7,594.3 392.4,595.0 394.0,595.7 395.7,596.3 397.3,596.9 399.0,597.5 400.6,598.1 402.3,598.6 403.9,599.1 405.6,599.6 407.2,600.1 408.9,600.6 410.5,601.0 412.2,601.4 413.8,601.8 415.5,602.1 417.1,602.5 418.8,602.8 420.4,603.1 422.1,603.4 423.7,603.6 425.4,603.9 427.0,604.1 428.7,604.3 430.3,604.5 432.0,604.6 433.6,604.7 435.3,604.8 436.9,604.9 438.6,605.0 440.2,605.1 441.9,605.1 443.5,605.1 445.2,605.2 446.8,605.2 448.5,605.2 450.2,605.2 451.8,605.3 453.5,605.3 455.1,605.3 456.8,605.4 458.4,605.5 460.1,605.5 461.7,605.6 463.4,605.8 465.0,605.9 466.7,606.0 468.3,606.2 470.0,606.3 471.6,606.5 473.3,606.6 474.9,606.8 476.6,606.9 478.2,607.1 479.9,607.2 481.5,607.3 483.2,607.4 484.8,607.5 486.5,607.6 488.1,607.6 489.8,607.7 491.4,607.7 493.1,607.6 494.7,607.6 496.4,607.5 498.0,607.4 499.7,607.3 501.3,607.1 503.0,606.8 504.6,606.6 506.3,606.3 507.9,605.9 509.6,605.5 511.2,605.0 512.9,604.5 514.5,604.0 516.2,603.4 517.9,602.9 519.5,602.2 521.2,601.6 522.8,600.9 524.5,600.3 526.1,599.6 527.8,598.9 529.4,598.2 531.1,597.5 532.7,596.8 534.4,596.1 536.0,595.4 537.7,594.8 539.3,594.1 541.0,593.5 542.6,592.9 544.3,592.3 545.9,591.7 547.6,591.2 549.2,590.7 550.9,590.3 552.5,589.9 554.2,589.6 555.8,589.3 557.5,589.0 559.1,588.7 560.8,588.4 562.4,588.2 564.1,587.9 565.7,587.6 567.4,587.3 569.0,587.0 570.7,586.6 572.3,586.2 574.0,585.7 575.6,585.1 577.3,584.5 578.9,583.8 580.6,583.1 582.2,582.3 583.9,581.4 585.5,580.5 587.2,579.5 588.9,578.5 590.5,577.4 592.2,576.4 593.8,575.3 595.5,574.2 597.1,573.1 598.8,571.9 600.4,570.8 602.1,569.7 603.7,568.5 605.4,567.3 607.0,566.2 608.7,565.0 610.3,563.8 612.0,562.6 613.6,561.4 615.3,560.2 616.9,559.0 618.6,557.8 620.2,556.6 621.9,555.4 623.5,554.2 625.2,552.9 626.8,551.7 628.5,550.5 630.1,549.2 631.8,548.0 633.4,546.7 635.1,545.5 636.7,544.2 638.4,543.0 640.0,541.8 641.7,540.5 643.3,539.4 645.0,538.2 646.6,537.1 648.3,536.0 649.9,535.0 651.6,534.0 653.2,533.2 654.9,532.4 656.5,531.7 658.2,531.0 659.9,530.5 661.5,530.1 663.2,529.8 664.8,529.6 666.5,529.5 668.1,529.5 669.8,529.6 671.4,529.8 673.1,530.1 674.7,530.5 676.4,531.1 678.0,531.7 679.7,532.5 681.3,533.4 683.0,534.4 684.6,535.5 686.3,536.8 687.9,538.1 689.6,539.5 691.2,541.0 692.9,542.6 694.5,544.3 696.2,546.1 697.8,548.0 699.5,550.0 701.1,551.9 702.8,553.9 704.4,556.0 706.1,558.0 707.7,559.9 709.4,561.8 711.0,563.6 712.7,565.3 714.3,566.8 716.0,568.1 717.6,569.3 719.3,570.3 720.9,571.2 722.6,571.9 724.2,572.5 725.9,573.0 727.6,573.3 729.2,573.6 730.9,573.8 732.5,573.9 734.2,573.9 735.8,573.9 737.5,573.8 739.1,573.7 740.8,573.5 742.4,573.3 744.1,573.1 745.7,572.8 747.4,572.6 749.0,572.3 750.7,571.9 752.3,571.6 754.0,571.2 755.6,570.9 757.3,570.5 758.9,570.1 760.6,569.7 762.2,569.4 763.9,569.0 765.5,568.7 767.2,568.3 768.8,568.0 770.5,567.7 772.1,567.4 773.8,567.1 775.4,566.9 777.1,566.7 778.7,566.6 780.4,566.5 782.0,566.4 783.7,566.3 785.3,566.4 787.0,566.4 788.6,566.5 790.3,566.6 791.9,566.7 793.6,566.9 795.2,567.0 796.9,567.1 798.6,567.1 800.2,567.2 801.9,567.1 803.5,567.0 805.2,566.9 806.8,566.6 808.5,566.3 810.1,565.9 811.8,565.4 813.4,564.8 815.1,564.1 816.7,563.3 818.4,562.5 820.0,561.5 821.7,560.5 823.3,559.5 825.0,558.3 826.6,557.2 828.3,555.9 829.9,554.6 831.6,553.3 833.2,551.9 834.9,550.4 836.5,548.9 838.2,547.4 839.8,545.9 841.5,544.3 843.1,542.7 844.8,541.1 846.4,539.5 848.1,537.8 849.7,536.2 851.4,534.5 853.0,532.9 854.7,531.2 856.3,529.6 858.0,527.9 859.6,526.3 861.3,524.7 862.9,523.2 864.6,521.6 866.3,520.2 867.9,518.7 869.6,517.3 871.2,516.0 872.9,514.7 874.5,513.5 876.2,512.3 877.8,511.2 879.5,510.2 881.1,509.3 882.8,508.4 884.4,507.7 886.1,507.0 887.7,506.4 889.4,506.0 891.0,505.7 892.7,505.7 894.3,505.8 896.0,506.2 897.6,506.8 899.3,507.7 900.9,509.0 902.6,510.6" stroke="#ff0000" stroke-width="6.25" stroke-dasharray="24.25 24.25" stroke-dashoffset="0"/>
<polyline points="243.8,391.4 245.4,396.2 247.1,401.0 248.7,405.5 250.4,409.9 252.0,414.2 253.7,418.2 255.3,422.2 257.0,426.0 258.6,429.6 260.3,433.0 261.9,436.4 263.6,439.5 265.2,442.6 266.9,445.5 268.5,448.4 270.2,451.1 271.8,453.8 273.5,456.5 275.1,459.2 276.8,461.8 278.4,464.4 280.1,467.0 281.7,469.6 283.4,472.1 285.0,474.7 286.7,477.3 288.3,479.8 290.0,482.4 291.6,484.9 293.3,487.3 294.9,489.7 296.6,492.1 298.2,494.3 299.9,496.5 301.5,498.5 303.2,500.4 304.8,502.2 306.5,503.9 308.1,505.5 309.8,507.0 311.5,508.4 313.1,509.8 314.8,511.0 316.4,512.1 318.1,513.1 319.7,514.1 321.4,515.0 323.0,515.9 324.7,516.7 326.3,517.5 328.0,518.3 329.6,519.1 331.3,519.9 332.9,520.7 334.6,521.5 336.2,522.4 337.9,523.3 339.5,524.3 341.2,525.3 342.8,526.3 344.5,527.4 346.1,528.6 347.8,529.8 349.4,531.0 351.1,532.3 352.7,533.6 354.4,535.1 356.0,536.5 357.7,538.0 359.3,539.6 361.0,541.3 362.6,543.0 364.3,544.7 365.9,546.5 367.6,548.4 369.2,550.4 370.9,552.3 372.5,554.3 374.2,556.4 375.8,558.4 377.5,560.4 379.2,562.5 380.8,564.5 382.5,566.5 384.1,568.5 385.8,570.5 387.4,572.4 389.1,574.2 390.7,576.0 392.4,577.7 394.0,579.3 395.7,580.9 397.3,582.3 399.0,583.7 400.6,585.0 402.3,586.2 403.9,587.4 405.6,588.5 407.2,589.5 408.9,590.5 410.5,591.4 412.2,592.3 413.8,593.2 415.5,594.0 417.1,594.8 418.8,595.6 420.4,596.4 422.1,597.2 423.7,598.0 425.4,598.8 427.0,599.6 428.7,600.4 430.3,601.2 432.0,602.1 433.6,603.0 435.3,603.9 436.9,604.8 438.6,605.7 440.2,606.6 441.9,607.6 443.5,608.5 445.2,609.5 446.8,610.4 448.5,611.4 450.2,612.4 451.8,613.3 453.5,614.2 455.1,615.1 456.8,616.0 458.4,616.9 460.1,617.8 461.7,618.6 463.4,619.4 465.0,620.2 466.7,620.9 468.3,621.6 470.0,622.3 471.6,622.8 473.3,623.4 474.9,623.9 476.6,624.3 478.2,624.7 479.9,625.0 481.5,625.2 483.2,625.4 484.8,625.5 486.5,625.6 488.1,625.5 489.8,625.5 491.4,625.3 493.1,625.0 494.7,624.7 496.4,624.3 498.0,623.8 499.7,623.3 501.3,622.6 503.0,621.9 504.6,621.1 506.3,620.1 507.9,619.1 509.6,618.1 511.2,616.9 512.9,615.7 514.5,614.4 516.2,613.1 517.9,611.8 519.5,610.4 521.2,609.0 522.8,607.5 524.5,606.0 526.1,604.6 527.8,603.1 529.4,601.6 531.1,600.2 532.7,598.8 534.4,597.3 536.0,596.0 537.7,594.6 539.3,593.3 541.0,592.1 542.6,590.9 544.3,589.8 545.9,588.8 547.6,587.8 549.2,586.9 550.9,586.1 552.5,585.3 554.2,584.6 555.8,583.9 557.5,583.3 559.1,582.8 560.8,582.3 562.4,581.9 564.1,581.5 565.7,581.2 567.4,580.9 569.0,580.7 570.7,580.5 572.3,580.4 574.0,580.3 575.6,580.3 577.3,580.3 578.9,580.4 580.6,580.4 582.2,580.5 583.9,580.5 585.5,580.5 587.2,580.4 588.9,580.2 590.5,579.9 592.2,579.6 593.8,579.1 595.5,578.6 597.1,578.1 598.8,577.4 600.4,576.7 602.1,576.0 603.7,575.1 605.4,574.3 607.0,573.3 608.7,572.4 610.3,571.4 612.0,570.3 613.6,569.3 615.3,568.2 616.9,567.0 618.6,565.9 620.2,564.7 621.9,563.5 623.5,562.4 625.2,561.2 626.8,560.0 628.5,558.8 630.1,557.6 631.8,556.5 633.4,555.3 635.1,554.2 636.7,553.0 638.4,551.9 640.0,550.8 641.7,549.8 643.3,548.8 645.0,547.8 646.6,546.8 648.3,545.9 649.9,545.0 651.6,544.1 653.2,543.3 654.9,542.5 656.5,541.8 658.2,541.1 659.9,540.5 661.5,540.0 663.2,539.5 664.8,539.0 666.5,538.7 668.1,538.4 669.8,538.1 671.4,537.9 673.1,537.8 674.7,537.8 676.4,537.8 678.0,537.9 679.7,538.1 681.3,538.3 683.0,538.5 684.6,538.7 686.3,539.0 687.9,539.4 689.6,539.7 691.2,540.1 692.9,540.4 694.5,540.8 696.2,541.1 697.8,541.5 699.5,541.8 701.1,542.2 702.8,542.5 704.4,542.7 706.1,543.0 707.7,543.2 709.4,543.3 711.0,543.4 712.7,543.5 714.3,543.5 716.0,543.6 717.6,543.5 719.3,543.5 720.9,543.4 722.6,543.2 724.2,543.1 725.9,542.9 727.6,542.6 729.2,542.3 730.9,542.0 732.5,541.6 734.2,541.2 735.8,540.7 737.5,540.2 739.1,539.6 740.8,538.9 742.4,538.2 744.1,537.5 745.7,536.7 747.4,535.8 749.0,534.9 750.7,533.9 752.3,532.8 754.0,531.7 755.6,530.5 757.3,529.2 758.9,527.8 760.6,526.4 762.2,524.9 763.9,523.3 765.5,521.7 767.2,520.0 768.8,518.2 770.5,516.4 772.1,514.6 773.8,512.8 775.4,511.0 777.1,509.2 778.7,507.4 780.4,505.6 782.0,504.0 783.7,502.3 785.3,500.8 787.0,499.3 788.6,497.9 790.3,496.5 791.9,495.2 793.6,494.0 795.2,492.8 796.9,491.7 798.6,490.7 800.2,489.8 801.9,488.9 803.5,488.2 805.2,487.5 806.8,487.0 808.5,486.5 810.1,486.2 811.8,486.0 813.4,486.0 815.1,486.1 816.7,486.3 818.4,486.7 820.0,487.2 821.7,487.8 823.3,488.5 825.0,489.3 826.6,490.2 828.3,491.2 829.9,492.2 831.6,493.3 833.2,494.5 834.9,495.8 836.5,497.1 838.2,498.4 839.8,499.9 841.5,501.3 843.1,502.8 844.8,504.3 846.4,505.9 848.1,507.5 849.7,509.1 851.4,510.8 853.0,512.5 854.7,514.2 856.3,516.0 858.0,517.8 859.6,519.6 861.3,521.4 862.9,523.3 864.6,525.1 866.3,526.9 867.9,528.6 869.6,530.2 871.2,531.7 872.9,533.1 874.5,534.4 876.2,535.4 877.8,536.3 879.5,537.0 881.1,537.5 882.8,537.9 884.4,538.0 886.1,538.0 887.7,537.7 889.4,537.1 891.0,536.3 892.7,535.2 894.3,533.7 896.0,531.8 897.6,529.6 899.3,526.9 900.9,523.7 902.6,520.1" stroke="#00ff00" stroke-width="6.25"/>
<polyline points="243.8,371.0 245.4,373.1 247.1,375.4 248.7,377.8 250.4,380.3 252.0,382.9 253.7,385.6 255.3,388.4 257.0,391.2 258.6,394.1 260.3,397.0 261.9,399.9 263.6,402.8 265.2,405.8 266.9,408.7 268.5,411.5 270.2,414.3 271.8,417.0 273.5,419.7 275.1,422.2 276.8,424.8 278.4,427.2 280.1,429.6 281.7,431.8 283.4,434.1 285.0,436.2 286.7,438.3 288.3,440.4 290.0,442.4 291.6,444.4 293.3,446.3 294.9,448.3 296.6,450.2 298.2,452.1 299.9,454.0 301.5,456.0 303.2,457.9 304.8,459.8 306.5,461.8 308.1,463.7 309.8,465.6 311.5,467.5 313.1,469.3 314.8,471.1 316.4,472.9 318.1,474.7 319.7,476.4 321.4,478.1 323.0,479.8 324.7,481.5 326.3,483.2 328.0,484.9 329.6,486.6 331.3,488.2 332.9,489.9 334.6,491.6 336.2,493.4 337.9,495.1 339.5,496.8 341.2,498.5 342.8,500.2 344.5,501.9 346.1,503.6 347.8,505.3 349.4,506.9 351.1,508.6 352.7,510.2 354.4,511.9 356.0,513.5 357.7,515.1 359.3,516.7 361.0,518.3 362.6,519.9 364.3,521.5 365.9,523.1 367.6,524.7 369.2,526.2 370.9,527.8 372.5,529.4 374.2,530.9 375.8,532.4 377.5,533.9 379.2,535.4 380.8,536.9 382.5,538.4 384.1,539.8 385.8,541.3 387.4,542.7 389.1,544.2 390.7,545.6 392.4,547.1 394.0,548.5 395.7,549.9 397.3,551.3 399.0,552.6 400.6,553.9 402.3,555.1 403.9,556.1 405.6,557.1 407.2,557.9 408.9,558.6 410.5,559.3 412.2,559.8 413.8,560.4 415.5,560.9 417.1,561.5 418.8,562.1 420.4,562.7 422.1,563.3 423.7,564.0 425.4,564.8 427.0,565.5 428.7,566.4 430.3,567.2 432.0,568.0 433.6,568.8 435.3,569.7 436.9,570.5 438.6,571.3 440.2,572.1 441.9,572.9 443.5,573.6 445.2,574.3 446.8,575.0 448.5,575.7 450.2,576.4 451.8,577.1 453.5,577.8 455.1,578.4 456.8,579.1 458.4,579.8 460.1,580.5 461.7,581.3 463.4,582.0 465.0,582.7 466.7,583.4 468.3,584.1 470.0,584.8 471.6,585.4 473.3,585.9 474.9,586.4 476.6,586.8 478.2,587.1 479.9,587.3 481.5,587.4 483.2,587.4 484.8,587.2 486.5,587.0 488.1,586.8 489.8,586.4 491.4,586.0 493.1,585.5 494.7,585.1 496.4,584.5 498.0,584.0 499.7,583.4 501.3,582.9 503.0,582.3 504.6,581.7 506.3,581.1 507.9,580.4 509.6,579.8 511.2,579.1 512.9,578.4 514.5,577.7 516.2,577.0 517.9,576.2 519.5,575.4 521.2,574.6 522.8,573.8 524.5,573.0 526.1,572.2 527.8,571.4 529.4,570.6 531.1,569.9 532.7,569.1 534.4,568.4 536.0,567.7 537.7,567.0 539.3,566.3 541.0,565.6 542.6,564.9 544.3,564.2 545.9,563.5 547.6,562.8 549.2,562.0 550.9,561.3 552.5,560.5 554.2,559.8 555.8,559.0 557.5,558.2 559.1,557.4 560.8,556.7 562.4,555.9 564.1,555.1 565.7,554.3 567.4,553.5 569.0,552.7 570.7,551.9 572.3,551.2 574.0,550.4 575.6,549.6 577.3,548.8 578.9,548.0 580.6,547.2 582.2,546.4 583.9,545.6 585.5,544.8 587.2,544.0 588.9,543.2 590.5,542.4 592.2,541.6 593.8,540.8 595.5,540.0 597.1,539.2 598.8,538.4 600.4,537.6 602.1,536.9 603.7,536.1 605.4,535.3 607.0,534.5 608.7,533.7 610.3,532.9 612.0,532.2 613.6,531.4 615.3,530.7 616.9,529.9 618.6,529.2 620.2,528.4 621.9,527.7 623.5,527.0 625.2,526.3 626.8,525.6 628.5,524.9 630.1,524.2 631.8,523.6 633.4,522.9 635.1,522.3 636.7,521.7 638.4,521.1 640.0,520.5 641.7,520.0 643.3,519.5 645.0,518.9 646.6,518.5 648.3,518.0 649.9,517.6 651.6,517.2 653.2,516.8 654.9,516.5 656.5,516.2 658.2,515.9 659.9,515.6 661.5,515.4 663.2,515.2 664.8,515.0 666.5,514.9 668.1,514.8 669.8,514.7 671.4,514.6 673.1,514.5 674.7,514.5 676.4,514.4 678.0,514.4 679.7,514.4 681.3,514.4 683.0,514.4 684.6,514.4 686.3,514.3 687.9,514.3 689.6,514.3 691.2,514.3 692.9,514.2 694.5,514.2 696.2,514.1 697.8,514.1 699.5,514.0 701.1,513.9 702.8,513.8 704.4,513.7 706.1,513.6 707.7,513.4 709.4,513.3 711.0,513.1 712.7,513.0 714.3,512.8 716.0,512.6 717.6,512.4 719.3,512.2 720.9,511.9 722.6,511.7 724.2,511.4 725.9,511.1 727.6,510.8 729.2,510.5 730.9,510.2 732.5,509.9 734.2,509.5 735.8,509.1 737.5,508.8 739.1,508.4 740.8,508.0 742.4,507.6 744.1,507.1 745.7,506.7 747.4,506.2 749.0,505.8 750.7,505.3 752.3,504.8 754.0,504.3 755.6,503.8 757.3,503.3 758.9,502.8 760.6,502.3 762.2,501.8 763.9,501.2 765.5,500.7 767.2,500.1 768.8,499.6 770.5,499.0 772.1,498.5 773.8,497.9 775.4,497.3 777.1,496.7 778.7,496.2 780.4,495.6 782.0,495.0 783.7,494.4 785.3,493.8 787.0,493.3 788.6,492.7 790.3,492.1 791.9,491.5 793.6,490.9 795.2,490.3 796.9,489.8 798.6,489.2 800.2,488.6 801.9,488.0 803.5,487.4 805.2,486.9 806.8,486.3 808.5,485.7 810.1,485.2 811.8,484.6 813.4,484.0 815.1,483.5 816.7,482.9 818.4,482.4 820.0,481.9 821.7,481.3 823.3,480.8 825.0,480.3 826.6,479.8 828.3,479.3 829.9,478.7 831.6,478.3 833.2,477.8 834.9,477.3 836.5,476.8 838.2,476.4 839.8,475.9 841.5,475.5 843.1,475.0 844.8,474.6 846.4,474.2 848.1,473.8 849.7,473.5 851.4,473.1 853.0,472.7 854.7,472.3 856.3,472.0 858.0,471.6 859.6,471.3 861.3,470.9 862.9,470.6 864.6,470.3 866.3,470.0 867.9,469.8 869.6,469.6 871.2,469.4 872.9,469.2 874.5,469.1 876.2,469.0 877.8,469.0 879.5,469.1 881.1,469.2 882.8,469.4 884.4,469.8 886.1,470.2 887.7,470.8 889.4,471.5 891.0,472.4 892.7,473.4 894.3,474.6 896.0,475.9 897.6,477.5 899.3,479.2 900.9,481.1 902.6,483.3" stroke="#0000ff" stroke-width="6.25" stroke-dasharray="6.25 6.25" stroke-dashoffset="3.5"/>
<polyline points="243.8,365.8 245.4,371.2 247.1,376.4 248.7,381.4 250.4,386.2 252.0,390.8 253.7,395.2 255.3,399.5 257.0,403.6 258.6,407.6 260.3,411.5 261.9,415.2 263.6,418.9 265.2,422.5 266.9,426.1 268.5,429.5 270.2,432.9 271.8,436.3 273.5,439.5 275.1,442.7 276.8,445.8 278.4,448.9 280.1,451.9 281.7,454.8 283.4,457.6 285.0,460.4 286.7,463.1 288.3,465.7 290.0,468.3 291.6,470.8 293.3,473.2 294.9,475.6 296.6,478.0 298.2,480.4 299.9,482.8 301.5,485.2 303.2,487.7 304.8,490.2 306.5,492.8 308.1,495.4 309.8,498.0 311.5,500.6 313.1,502.9 314.8,505.1 316.4,507.0 318.1,508.6 319.7,510.0 321.4,511.3 323.0,512.3 324.7,513.2 326.3,514.1 328.0,514.8 329.6,515.6 331.3,516.3 332.9,517.1 334.6,517.9 336.2,518.7 337.9,519.6 339.5,520.5 341.2,521.4 342.8,522.4 344.5,523.5 346.1,524.6 347.8,525.8 349.4,527.1 351.1,528.4 352.7,529.7 354.4,531.1 356.0,532.5 357.7,533.9 359.3,535.3 361.0,536.7 362.6,538.2 364.3,539.6 365.9,541.0 367.6,542.4 369.2,543.8 370.9,545.2 372.5,546.5 374.2,547.9 375.8,549.3 377.5,550.6 379.2,552.0 380.8,553.3 382.5,554.7 384.1,556.0 385.8,557.4 387.4,558.7 389.1,560.1 390.7,561.4 392.4,562.8 394.0,564.1 395.7,565.5 397.3,566.9 399.0,568.3 400.6,569.6 402.3,571.0 403.9,572.4 405.6,573.8 407.2,575.3 408.9,576.7 410.5,578.1 412.2,579.6 413.8,581.1 415.5,582.6 417.1,584.0 418.8,585.6 420.4,587.1 422.1,588.6 423.7,590.2 425.4,591.7 427.0,593.3 428.7,594.9 430.3,596.5 432.0,598.2 433.6,599.8 435.3,601.4 436.9,603.0 438.6,604.6 440.2,606.1 441.9,607.6 443.5,608.9 445.2,610.2 446.8,611.5 448.5,612.6 450.2,613.5 451.8,614.4 453.5,615.1 455.1,615.7 456.8,616.1 458.4,616.3 460.1,616.4 461.7,616.4 463.4,616.3 465.0,616.2 466.7,616.1 468.3,616.1 470.0,616.1 471.6,616.2 473.3,616.3 474.9,616.5 476.6,616.7 478.2,617.0 479.9,617.3 481.5,617.6 483.2,617.9 484.8,618.2 486.5,618.6 488.1,618.9 489.8,619.3 491.4,619.6 493.1,619.9 494.7,620.2 496.4,620.5 498.0,620.7 499.7,620.9 501.3,621.0 503.0,621.1 504.6,621.2 506.3,621.2 507.9,621.1 509.6,621.0 511.2,620.8 512.9,620.6 514.5,620.3 516.2,620.1 517.9,619.8 519.5,619.4 521.2,619.1 522.8,618.8 524.5,618.4 526.1,618.1 527.8,617.8 529.4,617.5 531.1,617.2 532.7,616.9 534.4,616.6 536.0,616.4 537.7,616.3 539.3,616.2 541.0,616.1 542.6,616.1 544.3,616.1 545.9,616.2 547.6,616.4 549.2,616.6 550.9,616.8 552.5,617.1 554.2,617.4 555.8,617.7 557.5,618.1 559.1,618.4 560.8,618.8 562.4,619.1 564.1,619.5 565.7,619.8 567.4,620.1 569.0,620.4 570.7,620.7 572.3,620.9 574.0,621.0 575.6,621.2 577.3,621.2 578.9,621.2 580.6,621.2 582.2,621.2 583.9,621.2 585.5,621.1 587.2,621.2 588.9,621.2 590.5,621.3 592.2,621.5 593.8,621.7 595.5,621.9 597.1,622.2 598.8,622.5 600.4,622.9 602.1,623.3 603.7,623.7 605.4,624.1 607.0,624.6 608.7,625.0 610.3,625.5 612.0,626.0 613.6,626.5 615.3,627.1 616.9,627.6 618.6,628.1 620.2,628.7 621.9,629.2 623.5,629.7 625.2,630.2 626.8,630.7 628.5,631.2 630.1,631.7 631.8,632.1 633.4,632.6 635.1,633.0 636.7,633.5 638.4,633.9 640.0,634.3 641.7,634.8 643.3,635.2 645.0,635.7 646.6,636.1 648.3,636.6 649.9,637.1 651.6,637.6 653.2,638.2 654.9,638.7 656.5,639.3 658.2,640.0 659.9,640.6 661.5,641.4 663.2,642.1 664.8,642.9 666.5,643.8 668.1,644.7 669.8,645.7 671.4,646.7 673.1,647.8 674.7,648.9 676.4,650.0 678.0,651.2 679.7,652.3 681.3,653.4 683.0,654.5 684.6,655.5 686.3,656.3 687.9,657.1 689.6,657.7 691.2,658.2 692.9,658.5 694.5,658.7 696.2,658.6 697.8,658.3 699.5,657.7 701.1,656.9 702.8,655.7 704.4,654.3 706.1,652.6 707.7,650.5 709.4,648.1 711.0,645.4 712.7,642.6 714.3,639.7 716.0,636.9 717.6,634.1 719.3,631.3 720.9,628.7 722.6,626.1 724.2,623.6 725.9,621.1 727.6,618.7 729.2,616.4 730.9,614.2 732.5,612.0 734.2,609.9 735.8,607.8 737.5,605.8 739.1,603.9 740.8,602.0 742.4,600.1 744.1,598.3 745.7,596.6 747.4,594.9 749.0,593.2 750.7,591.6 752.3,590.0 754.0,588.4 755.6,586.9 757.3,585.4 758.9,584.0 760.6,582.5 762.2,581.1 763.9,579.8 765.5,578.4 767.2,577.0 768.8,575.7 770.5,574.4 772.1,573.0 773.8,571.6 775.4,570.2 777.1,568.8 778.7,567.4 780.4,565.9 782.0,564.3 783.7,562.7 785.3,561.0 787.0,559.3 788.6,557.5 790.3,555.6 791.9,553.6 793.6,551.6 795.2,549.6 796.9,547.5 798.6,545.5 800.2,543.4 801.9,541.3 803.5,539.3 805.2,537.3 806.8,535.3 808.5,533.4 810.1,531.5 811.8,529.7 813.4,528.0 815.1,526.3 816.7,524.7 818.4,523.1 820.0,521.5 821.7,520.0 823.3,518.6 825.0,517.2 826.6,515.8 828.3,514.5 829.9,513.2 831.6,512.0 833.2,510.8 834.9,509.6 836.5,508.5 838.2,507.4 839.8,506.4 841.5,505.4 843.1,504.4 844.8,503.4 846.4,502.5 848.1,501.6 849.7,500.7 851.4,499.9 853.0,499.1 854.7,498.4 856.3,497.6 858.0,496.9 859.6,496.3 861.3,495.7 862.9,495.2 864.6,494.6 866.3,494.2 867.9,493.8 869.6,493.4 871.2,493.1 872.9,492.8 874.5,492.6 876.2,492.5 877.8,492.4 879.5,492.3 881.1,492.3 882.8,492.4 884.4,492.6 886.1,492.8 887.7,493.0 889.4,493.4 891.0,493.8 892.7,494.2 894.3,494.8 896.0,495.4 897.6,496.1 899.3,496.9 900.9,497.7 902.6,498.6" stroke="#ffff00" stroke-width="6.25"/>
</g>
<g stroke="#262626" stroke-width="1.04" fill="none" shape-rendering="auto">
<rect x="152.5" y="64.5" width="904.0" height="715.0"/>
<path d="M228.5 779.5v-9.0M228.5 64.5v9.0M307.5 779.5v-9.0M307.5 64.5v9.0M395.5 779.5v-9.0M395.5 64.5v9.0M504.5 779.5v-9.0M504.5 64.5v9.0M629.5 779.5v-9.0M629.5 64.5v9.0M763.5 779.5v-9.0M763.5 64.5v9.0M902.5 779.5v-9.0M902.5 64.5v9.0M1044.5 779.5v-9.0M1044.5 64.5v9.0M152.5 677.5h9.0M1056.5 677.5h-9.0M152.5 575.5h9.0M1056.5 575.5h-9.0M152.5 473.5h9.0M1056.5 473.5h-9.0M152.5 370.5h9.0M1056.5 370.5h-9.0M152.5 268.5h9.0M1056.5 268.5h-9.0M152.5 166.5h9.0M1056.5 166.5h-9.0"/>
</g>
<g fill="#262626" font-size="20.83px">
<text x="165.1" y="808.2" text-anchor="middle">0</text>
<text x="234.4" y="808.2" text-anchor="middle">100</text>
<text x="313.1" y="808.2" text-anchor="middle">250</text>
<text x="401.1" y="808.2" text-anchor="middle">500</text>
<text x="507.1" y="808.2" text-anchor="middle">1000</text>
<text x="631.8" y="808.2" text-anchor="middle">2000</text>
<text x="765.9" y="808.2" text-anchor="middle">4000</text>
<text x="905.3" y="808.2" text-anchor="middle">8000</text>
<text x="1044.2" y="808.2" text-anchor="middle">16000</text>
<text x="143.2" y="786.7" text-anchor="end">-10</text>
<text x="143.2" y="684.6" text-anchor="end">0</text>
<text x="143.2" y="582.4" text-anchor="end">10</text>
<text x="143.2" y="480.3" text-anchor="end">20</text>
<text x="143.2" y="378.1" text-anchor="end">30</text>
<text x="143.2" y="276.0" text-anchor="end">40</text>
<text x="143.2" y="173.8" text-anchor="end">50</text>
<text x="143.2" y="71.7" text-anchor="end">60</text>
</g>
<text x="604.5" y="839.5" text-anchor="middle" font-size="22.92px" fill="#262626" letter-spacing="0.16">Frequency (Hz)</text>
<text transform="translate(96.1 422.9) rotate(-90)" text-anchor="middle" font-size="22.92px" fill="#262626">Absolute hearing threshold (dB re 20 ��Pa)</text>
<rect x="506.5" y="85.5" width="196.0" height="196.0" fill="#fff" stroke="#262626" stroke-width="1.04"/>
<g fill="none">
<path d="M539.4 102.3h13.1M546.0 95.8v13.1" stroke="#0000ff" stroke-width="4.40"/>
<path d="M539.5 128.0h13.0M546.0 121.5v13.0M541.4 123.4l9.2 9.2M541.4 132.6l9.2 -9.2" stroke="#ffff00" stroke-width="2.40"/>
<path d="M514.5 157.4H577.4" stroke="#000" stroke-width="6.25"/>
<path d="M514.5 186.4H577.4" stroke="#ff0000" stroke-width="6.25" stroke-dasharray="25 24.7"/>
<path d="M514.5 212.4H577.4" stroke="#00ff00" stroke-width="6.25"/>
<path d="M514.5 238.4H577.4" stroke="#0000ff" stroke-width="6.25" stroke-dasharray="6.25 6.25"/>
<path d="M514.5 264.4H577.4" stroke="#ffff00" stroke-width="6.25"/>
</g>
<g fill="#000" font-size="18.65px">
<text x="584.0" y="108.1">er2a</text>
<text x="584.0" y="133.9">hda200</text>
<text x="584.0" y="163.5">iso226<tspan font-size="13.60px" dy="8.2">2</tspan><tspan dy="-8.2" dx="1.2">003</tspan></text>
<text x="584.0" y="192.5">map</text>
<text x="584.0" y="218.8">er3a</text>
<text x="584.0" y="244.8">er2a</text>
<text x="584.0" y="270.8">hda200</text>
</g>
</svg></body></html>
